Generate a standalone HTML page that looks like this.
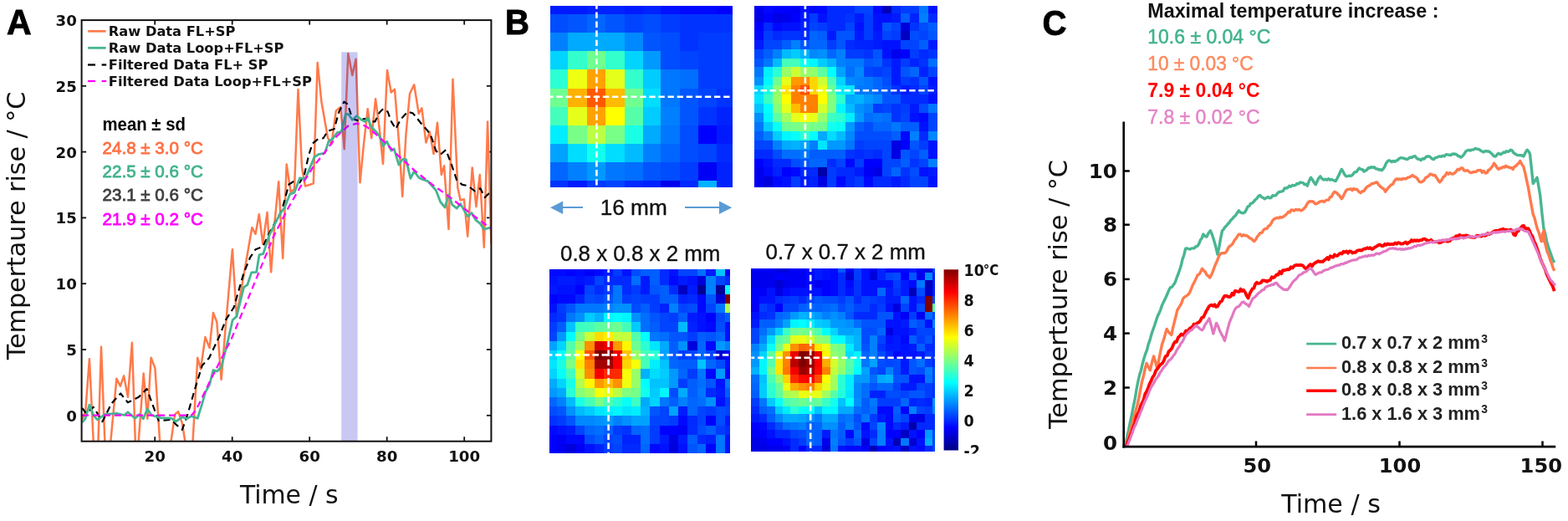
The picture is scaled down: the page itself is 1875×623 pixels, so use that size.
<!DOCTYPE html>
<html lang="en"><head><meta charset="utf-8"><title>Figure</title>
<style>html,body{margin:0;padding:0;background:#fff;overflow:hidden}svg{display:block}</style>
</head><body>
<svg width="1875" height="623" viewBox="0 0 1875 623">
<defs>
<clipPath id="clipA"><rect x="97.6" y="24" width="490" height="503.7"/></clipPath>
<clipPath id="clipC"><rect x="1343" y="140" width="520" height="395"/></clipPath>
<clipPath id="clipCB"><rect x="1120" y="300" width="100" height="242.5"/></clipPath>
</defs>
<rect width="1875" height="623" fill="#fff"/>
<line x1="185.2" y1="527.7" x2="185.2" y2="522.2" stroke="#111" stroke-width="1.8"/>
<line x1="185.2" y1="24.1" x2="185.2" y2="29.6" stroke="#111" stroke-width="1.8"/>
<line x1="277.7" y1="527.7" x2="277.7" y2="522.2" stroke="#111" stroke-width="1.8"/>
<line x1="277.7" y1="24.1" x2="277.7" y2="29.6" stroke="#111" stroke-width="1.8"/>
<line x1="370.2" y1="527.7" x2="370.2" y2="522.2" stroke="#111" stroke-width="1.8"/>
<line x1="370.2" y1="24.1" x2="370.2" y2="29.6" stroke="#111" stroke-width="1.8"/>
<line x1="462.7" y1="527.7" x2="462.7" y2="522.2" stroke="#111" stroke-width="1.8"/>
<line x1="462.7" y1="24.1" x2="462.7" y2="29.6" stroke="#111" stroke-width="1.8"/>
<line x1="555.2" y1="527.7" x2="555.2" y2="522.2" stroke="#111" stroke-width="1.8"/>
<line x1="555.2" y1="24.1" x2="555.2" y2="29.6" stroke="#111" stroke-width="1.8"/>
<line x1="97.6" y1="496.8" x2="103.1" y2="496.8" stroke="#111" stroke-width="1.8"/>
<line x1="587.4" y1="496.8" x2="581.9" y2="496.8" stroke="#111" stroke-width="1.8"/>
<line x1="97.6" y1="418.0" x2="103.1" y2="418.0" stroke="#111" stroke-width="1.8"/>
<line x1="587.4" y1="418.0" x2="581.9" y2="418.0" stroke="#111" stroke-width="1.8"/>
<line x1="97.6" y1="339.2" x2="103.1" y2="339.2" stroke="#111" stroke-width="1.8"/>
<line x1="587.4" y1="339.2" x2="581.9" y2="339.2" stroke="#111" stroke-width="1.8"/>
<line x1="97.6" y1="260.4" x2="103.1" y2="260.4" stroke="#111" stroke-width="1.8"/>
<line x1="587.4" y1="260.4" x2="581.9" y2="260.4" stroke="#111" stroke-width="1.8"/>
<line x1="97.6" y1="181.6" x2="103.1" y2="181.6" stroke="#111" stroke-width="1.8"/>
<line x1="587.4" y1="181.6" x2="581.9" y2="181.6" stroke="#111" stroke-width="1.8"/>
<line x1="97.6" y1="102.8" x2="103.1" y2="102.8" stroke="#111" stroke-width="1.8"/>
<line x1="587.4" y1="102.8" x2="581.9" y2="102.8" stroke="#111" stroke-width="1.8"/>
<g clip-path="url(#clipA)">
<polyline points="98.2,501.9 102.2,492.0 106.9,429.3 112.3,540.0 117.1,540.0 121.0,414.7 125.8,540.0 131.2,540.0 139.4,452.7 143.8,461.8 148.1,449.4 152.9,474.8 157.9,409.8 162.2,540.0 164.8,540.0 171.7,446.6 176.3,500.8 180.6,427.8 185.4,440.1 191.9,540.0 202.7,540.0 209.2,495.4 213.1,492.1 217.9,506.2 223.3,540.0 229.8,540.0 236.3,427.8 240.0,441.2 245.4,403.1 250.6,416.0 255.0,374.0 259.3,385.0 264.6,454.0 269.0,400.0 277.9,298.2 282.9,378.4 287.5,352.0 292.0,326.0 296.7,299.0 301.3,272.2 305.6,279.8 309.8,256.2 314.3,291.7 319.5,254.1 324.1,325.3 328.5,265.0 333.2,217.2 338.2,309.0 342.7,196.6 347.7,230.2 352.0,225.9 356.5,107.0 361.0,200.0 365.0,222.6 370.0,221.0 374.8,219.4 379.7,74.9 384.4,121.5 388.5,145.0 392.0,164.9 396.5,172.0 401.8,132.4 407.2,128.0 411.7,178.2 416.3,64.1 421.3,90.1 425.6,70.6 430.5,218.3 435.0,172.0 439.7,130.2 444.2,165.2 449.1,118.3 453.5,152.0 458.0,196.0 463.0,84.0 467.7,110.5 472.0,106.7 477.8,180.0 481.2,235.0 485.5,160.0 490.0,112.0 495.2,101.3 500.7,135.9 504.4,129.4 509.4,170.6 513.7,157.6 518.5,184.0 523.0,146.7 527.8,209.0 531.1,198.2 536.5,274.1 541.5,94.7 547.3,224.2 550.6,239.4 554.9,238.3 559.2,282.7 564.7,200.4 569.4,247.0 573.8,209.0 578.8,295.7 583.1,145.6 587.4,291.4" fill="none" stroke="#ff7a4a" stroke-width="2.5" stroke-linejoin="round"/>
<polyline points="98.2,487.8 103.0,494.3 109.5,488.9 111.7,486.7 122.5,504.1 133.4,482.4 144.2,470.5 152.9,481.3 165.9,474.8 175.6,465.0 181.1,480.2 189.7,503.0 204.9,501.9 211.4,508.4 217.9,513.8 224.4,495.4 233.1,465.0 241.8,436.9 250.0,428.2 262.3,402.2 269.9,382.7 279.6,367.6 291.5,326.4 299.1,307.9 305.6,298.2 314.3,294.9 321.9,278.7 336.9,251.9 345.5,220.5 350.9,217.2 358.5,218.3 364.0,208.5 369.4,184.7 373.7,171.7 380.2,166.3 386.7,165.2 392.1,156.5 399.7,154.3 405.0,134.6 411.5,121.5 415.9,124.8 421.3,142.1 428.9,144.3 435.4,142.1 439.7,143.2 444.1,145.4 448.4,145.4 453.8,134.6 458.2,130.2 463.6,133.5 467.9,145.4 473.3,154.1 478.8,143.2 487.4,133.5 493.9,135.6 502.9,146.7 511.5,156.5 515.9,164.1 521.3,180.3 526.7,184.7 533.2,179.2 539.7,196.0 546.2,215.5 552.7,220.9 559.2,222.0 567.9,228.5 574.4,225.3 579.8,236.1 587.4,228.5" fill="none" stroke="#000" stroke-width="2.15" stroke-linejoin="round" stroke-dasharray="8 5"/>
<polyline points="98.2,505.2 101.9,500.8 106.9,484.1 111.7,496.5 116.5,501.9 125.8,495.4 139.9,494.3 148.5,496.5 152.9,492.8 161.5,500.2 167.0,495.4 171.3,500.8 176.3,488.9 181.1,496.5 191.9,499.7 204.9,500.2 210.3,504.1 217.9,498.6 223.3,500.8 228.8,497.6 236.3,500.2 241.8,482.4 245.5,469.2 250.5,460.0 255.0,442.5 259.6,444.0 264.7,439.0 273.1,405.0 278.1,382.7 282.9,378.4 291.5,343.7 295.9,340.5 300.7,325.9 306.7,325.3 310.0,304.7 314.7,303.6 321.7,282.2 328.5,268.0 335.8,254.1 340.1,248.6 346.6,232.4 352.0,230.2 358.5,212.9 365.0,214.0 375.9,187.9 380.7,184.7 388.5,183.0 393.2,168.4 397.6,166.3 403.0,158.7 408.3,157.3 413.3,136.7 416.3,136.3 421.3,143.2 426.7,138.5 432.1,143.2 436.5,145.4 439.7,141.1 444.1,151.9 448.4,156.2 453.8,162.7 458.2,174.7 462.5,169.2 467.9,180.1 471.2,177.9 476.9,197.1 481.2,190.6 485.5,190.6 490.9,213.4 495.3,204.7 500.7,212.3 505.0,214.4 511.5,216.6 521.3,227.5 526.7,241.5 532.1,248.0 536.5,232.9 540.8,244.8 546.2,249.1 550.6,243.7 559.2,258.9 564.0,254.6 569.0,263.2 574.4,267.6 578.8,274.1 587.4,271.9" fill="none" stroke="#45b591" stroke-width="2.8" stroke-linejoin="round"/>
<polyline points="98.0,496.5 229.0,496.5 234.0,491.0 240.0,479.0 250.0,458.0 276.8,405.0 300.0,349.0 327.0,283.0 345.0,248.0 360.0,222.0 375.0,199.0 390.0,180.0 402.9,162.7 415.9,150.8 426.7,147.6 437.6,150.8 448.4,159.5 461.7,171.6 476.1,186.1 496.9,204.9 513.6,218.2 538.7,236.4 560.0,253.2 587.4,273.6" fill="none" stroke="#ff00ff" stroke-width="2.25" stroke-linejoin="round" stroke-dasharray="8 5"/>
</g>
<rect x="408.2" y="62.3" width="19.4" height="465.4" fill="#0000c8" fill-opacity="0.215"/>
<rect x="97.6" y="24.1" width="489.8" height="503.6" fill="none" stroke="#111" stroke-width="2"/>
<text x="185.2" y="551.6" font-family='"DejaVu Sans", "Liberation Sans", sans-serif' font-size="18.2" fill="#111" font-weight="bold" text-anchor="middle">20</text>
<text x="277.7" y="551.6" font-family='"DejaVu Sans", "Liberation Sans", sans-serif' font-size="18.2" fill="#111" font-weight="bold" text-anchor="middle">40</text>
<text x="370.2" y="551.6" font-family='"DejaVu Sans", "Liberation Sans", sans-serif' font-size="18.2" fill="#111" font-weight="bold" text-anchor="middle">60</text>
<text x="462.7" y="551.6" font-family='"DejaVu Sans", "Liberation Sans", sans-serif' font-size="18.2" fill="#111" font-weight="bold" text-anchor="middle">80</text>
<text x="555.2" y="551.6" font-family='"DejaVu Sans", "Liberation Sans", sans-serif' font-size="18.2" fill="#111" font-weight="bold" text-anchor="middle">100</text>
<text x="91.8" y="503.7" font-family='"DejaVu Sans", "Liberation Sans", sans-serif' font-size="18.2" fill="#111" font-weight="bold" text-anchor="end">0</text>
<text x="91.8" y="424.9" font-family='"DejaVu Sans", "Liberation Sans", sans-serif' font-size="18.2" fill="#111" font-weight="bold" text-anchor="end">5</text>
<text x="91.8" y="346.1" font-family='"DejaVu Sans", "Liberation Sans", sans-serif' font-size="18.2" fill="#111" font-weight="bold" text-anchor="end">10</text>
<text x="91.8" y="267.3" font-family='"DejaVu Sans", "Liberation Sans", sans-serif' font-size="18.2" fill="#111" font-weight="bold" text-anchor="end">15</text>
<text x="91.8" y="188.5" font-family='"DejaVu Sans", "Liberation Sans", sans-serif' font-size="18.2" fill="#111" font-weight="bold" text-anchor="end">20</text>
<text x="91.8" y="109.7" font-family='"DejaVu Sans", "Liberation Sans", sans-serif' font-size="18.2" fill="#111" font-weight="bold" text-anchor="end">25</text>
<text x="91.8" y="30.9" font-family='"DejaVu Sans", "Liberation Sans", sans-serif' font-size="18.2" fill="#111" font-weight="bold" text-anchor="end">30</text>
<line x1="105.2" y1="37.3" x2="126.6" y2="37.3" stroke="#ff7a4a" stroke-width="2.7"/>
<line x1="105.2" y1="57.3" x2="126.6" y2="57.3" stroke="#45b591" stroke-width="2.8"/>
<line x1="105.0" y1="77.5" x2="114.0" y2="77.5" stroke="#000" stroke-width="2.3"/>
<line x1="121.6" y1="77.5" x2="127.2" y2="77.5" stroke="#000" stroke-width="2.3"/>
<line x1="105.0" y1="97.0" x2="114.0" y2="97.0" stroke="#ff00ff" stroke-width="2.3"/>
<line x1="121.6" y1="97.0" x2="127.2" y2="97.0" stroke="#ff00ff" stroke-width="2.3"/>
<text x="129.8" y="43.3" font-family='"DejaVu Sans", "Liberation Sans", sans-serif' font-size="16.2" fill="#111" font-weight="bold" textLength="151.6" lengthAdjust="spacingAndGlyphs">Raw Data FL+SP</text>
<text x="129.8" y="63.3" font-family='"DejaVu Sans", "Liberation Sans", sans-serif' font-size="16.2" fill="#111" font-weight="bold" textLength="209.7" lengthAdjust="spacingAndGlyphs">Raw Data Loop+FL+SP</text>
<text x="129.8" y="82.7" font-family='"DejaVu Sans", "Liberation Sans", sans-serif' font-size="16.2" fill="#111" font-weight="bold" textLength="190.7" lengthAdjust="spacingAndGlyphs">Filtered Data FL+ SP</text>
<text x="129.8" y="103.0" font-family='"DejaVu Sans", "Liberation Sans", sans-serif' font-size="16.2" fill="#111" font-weight="bold" textLength="243.2" lengthAdjust="spacingAndGlyphs">Filtered Data Loop+FL+SP</text>
<text x="122.5" y="156.4" font-family='"Liberation Sans", sans-serif' font-size="21.5" fill="#000" font-weight="bold" textLength="99.4" lengthAdjust="spacingAndGlyphs">mean ± sd</text>
<text x="122.5" y="183.8" font-family='"Liberation Sans", sans-serif' font-size="20.6" fill="#ff7043" textLength="120.3" lengthAdjust="spacingAndGlyphs" stroke="#ff7043" stroke-width="0.8">24.8 ± 3.0 °C</text>
<text x="122.5" y="212.1" font-family='"Liberation Sans", sans-serif' font-size="20.6" fill="#41b38c" textLength="120.3" lengthAdjust="spacingAndGlyphs" stroke="#41b38c" stroke-width="0.8">22.5 ± 0.6 °C</text>
<text x="122.5" y="240.4" font-family='"Liberation Sans", sans-serif' font-size="20.6" fill="#404040" textLength="120.3" lengthAdjust="spacingAndGlyphs" stroke="#404040" stroke-width="0.8">23.1 ± 0.6 °C</text>
<text x="122.5" y="269.2" font-family='"Liberation Sans", sans-serif' font-size="20.6" fill="#ff00ff" textLength="120.3" lengthAdjust="spacingAndGlyphs" stroke="#ff00ff" stroke-width="0.8">21.9 ± 0.2 °C</text>
<text x="286.9" y="602.3" font-family='"DejaVu Sans", "Liberation Sans", sans-serif' font-size="30.5" fill="#111" textLength="117.7" lengthAdjust="spacingAndGlyphs">Time / s</text>
<text x="30.2" y="430.2" font-family='"DejaVu Sans", "Liberation Sans", sans-serif' font-size="30.5" fill="#111" textLength="320.5" lengthAdjust="spacingAndGlyphs" transform="rotate(-90 30.2 430.2)">Tempertaure rise / °C</text>
<text x="8.0" y="41.2" font-family='"Liberation Sans", sans-serif' font-size="42.3" fill="#000" font-weight="bold" textLength="29.6" lengthAdjust="spacingAndGlyphs" stroke="#000" stroke-width="0.9">A</text>
<text x="604.0" y="41.1" font-family='"Liberation Sans", sans-serif' font-size="42.3" fill="#000" font-weight="bold" textLength="29.0" lengthAdjust="spacingAndGlyphs" stroke="#000" stroke-width="0.9">B</text>
<g shape-rendering="crispEdges">
<rect x="657.60" y="6.80" width="22.20" height="11.00" fill="#001aff"/>
<rect x="679.30" y="6.80" width="23.30" height="11.00" fill="#001aff"/>
<rect x="702.10" y="6.80" width="22.20" height="11.00" fill="#0022ff"/>
<rect x="723.80" y="6.80" width="23.40" height="11.00" fill="#0022ff"/>
<rect x="746.70" y="6.80" width="22.40" height="11.00" fill="#001aff"/>
<rect x="768.60" y="6.80" width="22.10" height="11.00" fill="#0022ff"/>
<rect x="790.20" y="6.80" width="23.10" height="11.00" fill="#0011ff"/>
<rect x="812.80" y="6.80" width="22.40" height="11.00" fill="#0008ff"/>
<rect x="834.70" y="6.80" width="23.00" height="11.00" fill="#0008ff"/>
<rect x="857.20" y="6.80" width="18.80" height="11.00" fill="#0000ff"/>
<rect x="657.60" y="17.30" width="22.20" height="22.20" fill="#004cff"/>
<rect x="679.30" y="17.30" width="23.30" height="22.20" fill="#0055ff"/>
<rect x="702.10" y="17.30" width="22.20" height="22.20" fill="#0066ff"/>
<rect x="723.80" y="17.30" width="23.40" height="22.20" fill="#0055ff"/>
<rect x="746.70" y="17.30" width="22.40" height="22.20" fill="#0044ff"/>
<rect x="768.60" y="17.30" width="22.10" height="22.20" fill="#004cff"/>
<rect x="790.20" y="17.30" width="23.10" height="22.20" fill="#003cff"/>
<rect x="812.80" y="17.30" width="22.40" height="22.20" fill="#0033ff"/>
<rect x="834.70" y="17.30" width="23.00" height="22.20" fill="#0033ff"/>
<rect x="857.20" y="17.30" width="18.80" height="22.20" fill="#0033ff"/>
<rect x="657.60" y="39.00" width="22.20" height="22.80" fill="#0080ff"/>
<rect x="679.30" y="39.00" width="23.30" height="22.80" fill="#00aaff"/>
<rect x="702.10" y="39.00" width="22.20" height="22.80" fill="#00aaff"/>
<rect x="723.80" y="39.00" width="23.40" height="22.80" fill="#00aaff"/>
<rect x="746.70" y="39.00" width="22.40" height="22.80" fill="#0088ff"/>
<rect x="768.60" y="39.00" width="22.10" height="22.80" fill="#0055ff"/>
<rect x="790.20" y="39.00" width="23.10" height="22.80" fill="#004cff"/>
<rect x="812.80" y="39.00" width="22.40" height="22.80" fill="#0033ff"/>
<rect x="834.70" y="39.00" width="23.00" height="22.80" fill="#003cff"/>
<rect x="857.20" y="39.00" width="18.80" height="22.80" fill="#003cff"/>
<rect x="657.60" y="61.30" width="22.20" height="22.60" fill="#00d4ff"/>
<rect x="679.30" y="61.30" width="23.30" height="22.60" fill="#33ffcc"/>
<rect x="702.10" y="61.30" width="22.20" height="22.60" fill="#6eff90"/>
<rect x="723.80" y="61.30" width="23.40" height="22.60" fill="#33ffcc"/>
<rect x="746.70" y="61.30" width="22.40" height="22.60" fill="#00d4ff"/>
<rect x="768.60" y="61.30" width="22.10" height="22.60" fill="#0099ff"/>
<rect x="790.20" y="61.30" width="23.10" height="22.60" fill="#004cff"/>
<rect x="812.80" y="61.30" width="22.40" height="22.60" fill="#0044ff"/>
<rect x="834.70" y="61.30" width="23.00" height="22.60" fill="#003cff"/>
<rect x="857.20" y="61.30" width="18.80" height="22.60" fill="#003cff"/>
<rect x="657.60" y="83.40" width="22.20" height="23.00" fill="#2bffd4"/>
<rect x="679.30" y="83.40" width="23.30" height="23.00" fill="#eeff11"/>
<rect x="702.10" y="83.40" width="22.20" height="23.00" fill="#ffa200"/>
<rect x="723.80" y="83.40" width="23.40" height="23.00" fill="#e5ff1a"/>
<rect x="746.70" y="83.40" width="22.40" height="23.00" fill="#33ffcc"/>
<rect x="768.60" y="83.40" width="22.10" height="23.00" fill="#00ccff"/>
<rect x="790.20" y="83.40" width="23.10" height="23.00" fill="#0077ff"/>
<rect x="812.80" y="83.40" width="22.40" height="23.00" fill="#006eff"/>
<rect x="834.70" y="83.40" width="23.00" height="23.00" fill="#003cff"/>
<rect x="857.20" y="83.40" width="18.80" height="23.00" fill="#003cff"/>
<rect x="657.60" y="105.90" width="22.20" height="22.10" fill="#6eff90"/>
<rect x="679.30" y="105.90" width="23.30" height="22.10" fill="#ffb200"/>
<rect x="702.10" y="105.90" width="22.20" height="22.10" fill="#ff5900"/>
<rect x="723.80" y="105.90" width="23.40" height="22.10" fill="#ffbb00"/>
<rect x="746.70" y="105.90" width="22.40" height="22.10" fill="#6eff90"/>
<rect x="768.60" y="105.90" width="22.10" height="22.10" fill="#00ddff"/>
<rect x="790.20" y="105.90" width="23.10" height="22.10" fill="#0077ff"/>
<rect x="812.80" y="105.90" width="22.40" height="22.10" fill="#0055ff"/>
<rect x="834.70" y="105.90" width="23.00" height="22.10" fill="#0044ff"/>
<rect x="857.20" y="105.90" width="18.80" height="22.10" fill="#0033ff"/>
<rect x="657.60" y="127.50" width="22.20" height="23.10" fill="#44ffbb"/>
<rect x="679.30" y="127.50" width="23.30" height="23.10" fill="#e5ff1a"/>
<rect x="702.10" y="127.50" width="22.20" height="23.10" fill="#ffa200"/>
<rect x="723.80" y="127.50" width="23.40" height="23.10" fill="#ffff00"/>
<rect x="746.70" y="127.50" width="22.40" height="23.10" fill="#55ffaa"/>
<rect x="768.60" y="127.50" width="22.10" height="23.10" fill="#00ccff"/>
<rect x="790.20" y="127.50" width="23.10" height="23.10" fill="#0080ff"/>
<rect x="812.80" y="127.50" width="22.40" height="23.10" fill="#0055ff"/>
<rect x="834.70" y="127.50" width="23.00" height="23.10" fill="#0033ff"/>
<rect x="857.20" y="127.50" width="18.80" height="23.10" fill="#0022ff"/>
<rect x="657.60" y="150.10" width="22.20" height="22.80" fill="#00eeff"/>
<rect x="679.30" y="150.10" width="23.30" height="22.80" fill="#77ff88"/>
<rect x="702.10" y="150.10" width="22.20" height="22.80" fill="#bbff44"/>
<rect x="723.80" y="150.10" width="23.40" height="22.80" fill="#77ff88"/>
<rect x="746.70" y="150.10" width="22.40" height="22.80" fill="#19ffe6"/>
<rect x="768.60" y="150.10" width="22.10" height="22.80" fill="#00aaff"/>
<rect x="790.20" y="150.10" width="23.10" height="22.80" fill="#0077ff"/>
<rect x="812.80" y="150.10" width="22.40" height="22.80" fill="#004cff"/>
<rect x="834.70" y="150.10" width="23.00" height="22.80" fill="#0000ff"/>
<rect x="857.20" y="150.10" width="18.80" height="22.80" fill="#001aff"/>
<rect x="657.60" y="172.40" width="22.20" height="22.40" fill="#00a2ff"/>
<rect x="679.30" y="172.40" width="23.30" height="22.40" fill="#00ddff"/>
<rect x="702.10" y="172.40" width="22.20" height="22.40" fill="#11ffee"/>
<rect x="723.80" y="172.40" width="23.40" height="22.40" fill="#00ddff"/>
<rect x="746.70" y="172.40" width="22.40" height="22.40" fill="#00bbff"/>
<rect x="768.60" y="172.40" width="22.10" height="22.40" fill="#0080ff"/>
<rect x="790.20" y="172.40" width="23.10" height="22.40" fill="#0066ff"/>
<rect x="812.80" y="172.40" width="22.40" height="22.40" fill="#004cff"/>
<rect x="834.70" y="172.40" width="23.00" height="22.40" fill="#0044ff"/>
<rect x="857.20" y="172.40" width="18.80" height="22.40" fill="#002aff"/>
<rect x="657.60" y="194.30" width="22.20" height="22.30" fill="#0066ff"/>
<rect x="679.30" y="194.30" width="23.30" height="22.30" fill="#0080ff"/>
<rect x="702.10" y="194.30" width="22.20" height="22.30" fill="#0099ff"/>
<rect x="723.80" y="194.30" width="23.40" height="22.30" fill="#0077ff"/>
<rect x="746.70" y="194.30" width="22.40" height="22.30" fill="#006eff"/>
<rect x="768.60" y="194.30" width="22.10" height="22.30" fill="#0055ff"/>
<rect x="790.20" y="194.30" width="23.10" height="22.30" fill="#004cff"/>
<rect x="812.80" y="194.30" width="22.40" height="22.30" fill="#003cff"/>
<rect x="834.70" y="194.30" width="23.00" height="22.30" fill="#0000f6"/>
<rect x="857.20" y="194.30" width="18.80" height="22.30" fill="#0022ff"/>
<rect x="657.60" y="216.10" width="22.20" height="8.30" fill="#0033ff"/>
<rect x="679.30" y="216.10" width="23.30" height="8.30" fill="#001aff"/>
<rect x="702.10" y="216.10" width="22.20" height="8.30" fill="#003cff"/>
<rect x="723.80" y="216.10" width="23.40" height="8.30" fill="#0044ff"/>
<rect x="746.70" y="216.10" width="22.40" height="8.30" fill="#002aff"/>
<rect x="768.60" y="216.10" width="22.10" height="8.30" fill="#0022ff"/>
<rect x="790.20" y="216.10" width="23.10" height="8.30" fill="#0000ee"/>
<rect x="812.80" y="216.10" width="22.40" height="8.30" fill="#002aff"/>
<rect x="834.70" y="216.10" width="23.00" height="8.30" fill="#00b2ff"/>
<rect x="857.20" y="216.10" width="18.80" height="8.30" fill="#0022ff"/>
</g>
<line x1="713.4" y1="6.8" x2="713.4" y2="224.4" stroke="#fff" stroke-width="2.6" stroke-dasharray="7.4 3.7" stroke-dashoffset="3.5"/>
<line x1="657.7" y1="115.7" x2="876.1" y2="115.7" stroke="#fff" stroke-width="2.6" stroke-dasharray="7.4 3.7" stroke-dashoffset="3.5"/>
<g shape-rendering="crispEdges">
<rect x="902.00" y="7.00" width="11.42" height="9.20" fill="#0000ee"/>
<rect x="912.92" y="7.00" width="11.43" height="9.20" fill="#0008ff"/>
<rect x="923.85" y="7.00" width="11.42" height="9.20" fill="#0000ff"/>
<rect x="934.77" y="7.00" width="11.43" height="9.20" fill="#0000ff"/>
<rect x="945.70" y="7.00" width="11.42" height="9.20" fill="#0000f6"/>
<rect x="956.62" y="7.00" width="11.42" height="9.20" fill="#0011ff"/>
<rect x="967.55" y="7.00" width="11.43" height="9.20" fill="#0008ff"/>
<rect x="978.48" y="7.00" width="11.42" height="9.20" fill="#0008ff"/>
<rect x="989.40" y="7.00" width="11.43" height="9.20" fill="#002aff"/>
<rect x="1000.33" y="7.00" width="11.42" height="9.20" fill="#002aff"/>
<rect x="1011.25" y="7.00" width="11.42" height="9.20" fill="#002aff"/>
<rect x="1022.17" y="7.00" width="11.42" height="9.20" fill="#0044ff"/>
<rect x="1033.10" y="7.00" width="11.43" height="9.20" fill="#0044ff"/>
<rect x="1044.03" y="7.00" width="11.42" height="9.20" fill="#0008ff"/>
<rect x="1054.95" y="7.00" width="11.42" height="9.20" fill="#0000bb"/>
<rect x="1065.88" y="7.00" width="11.42" height="9.20" fill="#002aff"/>
<rect x="1076.80" y="7.00" width="11.42" height="9.20" fill="#003cff"/>
<rect x="1087.72" y="7.00" width="11.43" height="9.20" fill="#003cff"/>
<rect x="1098.65" y="7.00" width="11.42" height="9.20" fill="#0077ff"/>
<rect x="1109.58" y="7.00" width="11.02" height="9.20" fill="#0011ff"/>
<rect x="902.00" y="15.70" width="11.42" height="11.30" fill="#0000e5"/>
<rect x="912.92" y="15.70" width="11.43" height="11.30" fill="#0000ff"/>
<rect x="923.85" y="15.70" width="11.42" height="11.30" fill="#0000e5"/>
<rect x="934.77" y="15.70" width="11.43" height="11.30" fill="#0000ee"/>
<rect x="945.70" y="15.70" width="11.42" height="11.30" fill="#0000ff"/>
<rect x="956.62" y="15.70" width="11.42" height="11.30" fill="#001aff"/>
<rect x="967.55" y="15.70" width="11.43" height="11.30" fill="#003cff"/>
<rect x="978.48" y="15.70" width="11.42" height="11.30" fill="#0011ff"/>
<rect x="989.40" y="15.70" width="11.43" height="11.30" fill="#002aff"/>
<rect x="1000.33" y="15.70" width="11.42" height="11.30" fill="#002aff"/>
<rect x="1011.25" y="15.70" width="11.42" height="11.30" fill="#0033ff"/>
<rect x="1022.17" y="15.70" width="11.42" height="11.30" fill="#001aff"/>
<rect x="1033.10" y="15.70" width="11.43" height="11.30" fill="#003cff"/>
<rect x="1044.03" y="15.70" width="11.42" height="11.30" fill="#0011ff"/>
<rect x="1054.95" y="15.70" width="11.42" height="11.30" fill="#0011ff"/>
<rect x="1065.88" y="15.70" width="11.42" height="11.30" fill="#001aff"/>
<rect x="1076.80" y="15.70" width="11.42" height="11.30" fill="#005eff"/>
<rect x="1087.72" y="15.70" width="11.43" height="11.30" fill="#0022ff"/>
<rect x="1098.65" y="15.70" width="11.42" height="11.30" fill="#0080ff"/>
<rect x="1109.58" y="15.70" width="11.02" height="11.30" fill="#002aff"/>
<rect x="902.00" y="26.50" width="11.42" height="11.20" fill="#0000ff"/>
<rect x="912.92" y="26.50" width="11.43" height="11.20" fill="#002aff"/>
<rect x="923.85" y="26.50" width="11.42" height="11.20" fill="#0008ff"/>
<rect x="934.77" y="26.50" width="11.43" height="11.20" fill="#0011ff"/>
<rect x="945.70" y="26.50" width="11.42" height="11.20" fill="#0011ff"/>
<rect x="956.62" y="26.50" width="11.42" height="11.20" fill="#0022ff"/>
<rect x="967.55" y="26.50" width="11.43" height="11.20" fill="#0044ff"/>
<rect x="978.48" y="26.50" width="11.42" height="11.20" fill="#003cff"/>
<rect x="989.40" y="26.50" width="11.43" height="11.20" fill="#002aff"/>
<rect x="1000.33" y="26.50" width="11.42" height="11.20" fill="#002aff"/>
<rect x="1011.25" y="26.50" width="11.42" height="11.20" fill="#0044ff"/>
<rect x="1022.17" y="26.50" width="11.42" height="11.20" fill="#0011ff"/>
<rect x="1033.10" y="26.50" width="11.43" height="11.20" fill="#003cff"/>
<rect x="1044.03" y="26.50" width="11.42" height="11.20" fill="#0011ff"/>
<rect x="1054.95" y="26.50" width="11.42" height="11.20" fill="#0055ff"/>
<rect x="1065.88" y="26.50" width="11.42" height="11.20" fill="#0044ff"/>
<rect x="1076.80" y="26.50" width="11.42" height="11.20" fill="#0000dd"/>
<rect x="1087.72" y="26.50" width="11.43" height="11.20" fill="#0033ff"/>
<rect x="1098.65" y="26.50" width="11.42" height="11.20" fill="#004cff"/>
<rect x="1109.58" y="26.50" width="11.02" height="11.20" fill="#005eff"/>
<rect x="902.00" y="37.20" width="11.42" height="11.30" fill="#0008ff"/>
<rect x="912.92" y="37.20" width="11.43" height="11.30" fill="#003cff"/>
<rect x="923.85" y="37.20" width="11.42" height="11.30" fill="#002aff"/>
<rect x="934.77" y="37.20" width="11.43" height="11.30" fill="#0033ff"/>
<rect x="945.70" y="37.20" width="11.42" height="11.30" fill="#0033ff"/>
<rect x="956.62" y="37.20" width="11.42" height="11.30" fill="#002aff"/>
<rect x="967.55" y="37.20" width="11.43" height="11.30" fill="#0066ff"/>
<rect x="978.48" y="37.20" width="11.42" height="11.30" fill="#005eff"/>
<rect x="989.40" y="37.20" width="11.43" height="11.30" fill="#001aff"/>
<rect x="1000.33" y="37.20" width="11.42" height="11.30" fill="#0055ff"/>
<rect x="1011.25" y="37.20" width="11.42" height="11.30" fill="#0055ff"/>
<rect x="1022.17" y="37.20" width="11.42" height="11.30" fill="#001aff"/>
<rect x="1033.10" y="37.20" width="11.43" height="11.30" fill="#003cff"/>
<rect x="1044.03" y="37.20" width="11.42" height="11.30" fill="#001aff"/>
<rect x="1054.95" y="37.20" width="11.42" height="11.30" fill="#0044ff"/>
<rect x="1065.88" y="37.20" width="11.42" height="11.30" fill="#003cff"/>
<rect x="1076.80" y="37.20" width="11.42" height="11.30" fill="#0000c3"/>
<rect x="1087.72" y="37.20" width="11.43" height="11.30" fill="#004cff"/>
<rect x="1098.65" y="37.20" width="11.42" height="11.30" fill="#0044ff"/>
<rect x="1109.58" y="37.20" width="11.02" height="11.30" fill="#0055ff"/>
<rect x="902.00" y="48.00" width="11.42" height="11.30" fill="#001aff"/>
<rect x="912.92" y="48.00" width="11.43" height="11.30" fill="#0044ff"/>
<rect x="923.85" y="48.00" width="11.42" height="11.30" fill="#0044ff"/>
<rect x="934.77" y="48.00" width="11.43" height="11.30" fill="#005eff"/>
<rect x="945.70" y="48.00" width="11.42" height="11.30" fill="#0080ff"/>
<rect x="956.62" y="48.00" width="11.42" height="11.30" fill="#0055ff"/>
<rect x="967.55" y="48.00" width="11.43" height="11.30" fill="#0066ff"/>
<rect x="978.48" y="48.00" width="11.42" height="11.30" fill="#0066ff"/>
<rect x="989.40" y="48.00" width="11.43" height="11.30" fill="#003cff"/>
<rect x="1000.33" y="48.00" width="11.42" height="11.30" fill="#0055ff"/>
<rect x="1011.25" y="48.00" width="11.42" height="11.30" fill="#002aff"/>
<rect x="1022.17" y="48.00" width="11.42" height="11.30" fill="#0022ff"/>
<rect x="1033.10" y="48.00" width="11.43" height="11.30" fill="#0022ff"/>
<rect x="1044.03" y="48.00" width="11.42" height="11.30" fill="#001aff"/>
<rect x="1054.95" y="48.00" width="11.42" height="11.30" fill="#0011ff"/>
<rect x="1065.88" y="48.00" width="11.42" height="11.30" fill="#0011ff"/>
<rect x="1076.80" y="48.00" width="11.42" height="11.30" fill="#0044ff"/>
<rect x="1087.72" y="48.00" width="11.43" height="11.30" fill="#0044ff"/>
<rect x="1098.65" y="48.00" width="11.42" height="11.30" fill="#005eff"/>
<rect x="1109.58" y="48.00" width="11.02" height="11.30" fill="#001aff"/>
<rect x="902.00" y="58.80" width="11.42" height="11.30" fill="#0044ff"/>
<rect x="912.92" y="58.80" width="11.43" height="11.30" fill="#005eff"/>
<rect x="923.85" y="58.80" width="11.42" height="11.30" fill="#0080ff"/>
<rect x="934.77" y="58.80" width="11.43" height="11.30" fill="#00bbff"/>
<rect x="945.70" y="58.80" width="11.42" height="11.30" fill="#00ccff"/>
<rect x="956.62" y="58.80" width="11.42" height="11.30" fill="#00b2ff"/>
<rect x="967.55" y="58.80" width="11.43" height="11.30" fill="#0088ff"/>
<rect x="978.48" y="58.80" width="11.42" height="11.30" fill="#0090ff"/>
<rect x="989.40" y="58.80" width="11.43" height="11.30" fill="#0066ff"/>
<rect x="1000.33" y="58.80" width="11.42" height="11.30" fill="#0080ff"/>
<rect x="1011.25" y="58.80" width="11.42" height="11.30" fill="#003cff"/>
<rect x="1022.17" y="58.80" width="11.42" height="11.30" fill="#003cff"/>
<rect x="1033.10" y="58.80" width="11.43" height="11.30" fill="#0033ff"/>
<rect x="1044.03" y="58.80" width="11.42" height="11.30" fill="#0055ff"/>
<rect x="1054.95" y="58.80" width="11.42" height="11.30" fill="#0011ff"/>
<rect x="1065.88" y="58.80" width="11.42" height="11.30" fill="#0000ee"/>
<rect x="1076.80" y="58.80" width="11.42" height="11.30" fill="#0000ff"/>
<rect x="1087.72" y="58.80" width="11.43" height="11.30" fill="#003cff"/>
<rect x="1098.65" y="58.80" width="11.42" height="11.30" fill="#002aff"/>
<rect x="1109.58" y="58.80" width="11.02" height="11.30" fill="#0033ff"/>
<rect x="902.00" y="69.60" width="11.42" height="11.30" fill="#0055ff"/>
<rect x="912.92" y="69.60" width="11.43" height="11.30" fill="#0077ff"/>
<rect x="923.85" y="69.60" width="11.42" height="11.30" fill="#00bbff"/>
<rect x="934.77" y="69.60" width="11.43" height="11.30" fill="#44ffbb"/>
<rect x="945.70" y="69.60" width="11.42" height="11.30" fill="#44ffbb"/>
<rect x="956.62" y="69.60" width="11.42" height="11.30" fill="#08fff7"/>
<rect x="967.55" y="69.60" width="11.43" height="11.30" fill="#00f7ff"/>
<rect x="978.48" y="69.60" width="11.42" height="11.30" fill="#00ccff"/>
<rect x="989.40" y="69.60" width="11.43" height="11.30" fill="#00b2ff"/>
<rect x="1000.33" y="69.60" width="11.42" height="11.30" fill="#0080ff"/>
<rect x="1011.25" y="69.60" width="11.42" height="11.30" fill="#0077ff"/>
<rect x="1022.17" y="69.60" width="11.42" height="11.30" fill="#0077ff"/>
<rect x="1033.10" y="69.60" width="11.43" height="11.30" fill="#0055ff"/>
<rect x="1044.03" y="69.60" width="11.42" height="11.30" fill="#005eff"/>
<rect x="1054.95" y="69.60" width="11.42" height="11.30" fill="#0033ff"/>
<rect x="1065.88" y="69.60" width="11.42" height="11.30" fill="#001aff"/>
<rect x="1076.80" y="69.60" width="11.42" height="11.30" fill="#003cff"/>
<rect x="1087.72" y="69.60" width="11.43" height="11.30" fill="#0022ff"/>
<rect x="1098.65" y="69.60" width="11.42" height="11.30" fill="#0033ff"/>
<rect x="1109.58" y="69.60" width="11.02" height="11.30" fill="#006eff"/>
<rect x="902.00" y="80.40" width="11.42" height="11.60" fill="#0077ff"/>
<rect x="912.92" y="80.40" width="11.43" height="11.60" fill="#00eeff"/>
<rect x="923.85" y="80.40" width="11.42" height="11.60" fill="#2bffd4"/>
<rect x="934.77" y="80.40" width="11.43" height="11.60" fill="#99ff66"/>
<rect x="945.70" y="80.40" width="11.42" height="11.60" fill="#ccff33"/>
<rect x="956.62" y="80.40" width="11.42" height="11.60" fill="#99ff66"/>
<rect x="967.55" y="80.40" width="11.43" height="11.60" fill="#91ff6e"/>
<rect x="978.48" y="80.40" width="11.42" height="11.60" fill="#5dffa2"/>
<rect x="989.40" y="80.40" width="11.43" height="11.60" fill="#00ffff"/>
<rect x="1000.33" y="80.40" width="11.42" height="11.60" fill="#00a2ff"/>
<rect x="1011.25" y="80.40" width="11.42" height="11.60" fill="#006eff"/>
<rect x="1022.17" y="80.40" width="11.42" height="11.60" fill="#0088ff"/>
<rect x="1033.10" y="80.40" width="11.43" height="11.60" fill="#0044ff"/>
<rect x="1044.03" y="80.40" width="11.42" height="11.60" fill="#003cff"/>
<rect x="1054.95" y="80.40" width="11.42" height="11.60" fill="#0044ff"/>
<rect x="1065.88" y="80.40" width="11.42" height="11.60" fill="#001aff"/>
<rect x="1076.80" y="80.40" width="11.42" height="11.60" fill="#0055ff"/>
<rect x="1087.72" y="80.40" width="11.43" height="11.60" fill="#0066ff"/>
<rect x="1098.65" y="80.40" width="11.42" height="11.60" fill="#0022ff"/>
<rect x="1109.58" y="80.40" width="11.02" height="11.60" fill="#0044ff"/>
<rect x="902.00" y="91.50" width="11.42" height="11.30" fill="#0090ff"/>
<rect x="912.92" y="91.50" width="11.43" height="11.30" fill="#00f7ff"/>
<rect x="923.85" y="91.50" width="11.42" height="11.30" fill="#6eff90"/>
<rect x="934.77" y="91.50" width="11.43" height="11.30" fill="#e5ff1a"/>
<rect x="945.70" y="91.50" width="11.42" height="11.30" fill="#ff9900"/>
<rect x="956.62" y="91.50" width="11.42" height="11.30" fill="#ff9000"/>
<rect x="967.55" y="91.50" width="11.43" height="11.30" fill="#ffd500"/>
<rect x="978.48" y="91.50" width="11.42" height="11.30" fill="#ccff33"/>
<rect x="989.40" y="91.50" width="11.43" height="11.30" fill="#4dffb2"/>
<rect x="1000.33" y="91.50" width="11.42" height="11.30" fill="#00d4ff"/>
<rect x="1011.25" y="91.50" width="11.42" height="11.30" fill="#0088ff"/>
<rect x="1022.17" y="91.50" width="11.42" height="11.30" fill="#0080ff"/>
<rect x="1033.10" y="91.50" width="11.43" height="11.30" fill="#0077ff"/>
<rect x="1044.03" y="91.50" width="11.42" height="11.30" fill="#0066ff"/>
<rect x="1054.95" y="91.50" width="11.42" height="11.30" fill="#004cff"/>
<rect x="1065.88" y="91.50" width="11.42" height="11.30" fill="#001aff"/>
<rect x="1076.80" y="91.50" width="11.42" height="11.30" fill="#003cff"/>
<rect x="1087.72" y="91.50" width="11.43" height="11.30" fill="#0033ff"/>
<rect x="1098.65" y="91.50" width="11.42" height="11.30" fill="#0055ff"/>
<rect x="1109.58" y="91.50" width="11.02" height="11.30" fill="#0011ff"/>
<rect x="902.00" y="102.30" width="11.42" height="11.50" fill="#00d4ff"/>
<rect x="912.92" y="102.30" width="11.43" height="11.50" fill="#19ffe6"/>
<rect x="923.85" y="102.30" width="11.42" height="11.50" fill="#91ff6e"/>
<rect x="934.77" y="102.30" width="11.43" height="11.50" fill="#ffe500"/>
<rect x="945.70" y="102.30" width="11.42" height="11.50" fill="#ff8000"/>
<rect x="956.62" y="102.30" width="11.42" height="11.50" fill="#ff4d00"/>
<rect x="967.55" y="102.30" width="11.43" height="11.50" fill="#ffd500"/>
<rect x="978.48" y="102.30" width="11.42" height="11.50" fill="#eeff11"/>
<rect x="989.40" y="102.30" width="11.43" height="11.50" fill="#66ff99"/>
<rect x="1000.33" y="102.30" width="11.42" height="11.50" fill="#00eeff"/>
<rect x="1011.25" y="102.30" width="11.42" height="11.50" fill="#00e6ff"/>
<rect x="1022.17" y="102.30" width="11.42" height="11.50" fill="#0077ff"/>
<rect x="1033.10" y="102.30" width="11.43" height="11.50" fill="#0077ff"/>
<rect x="1044.03" y="102.30" width="11.42" height="11.50" fill="#0066ff"/>
<rect x="1054.95" y="102.30" width="11.42" height="11.50" fill="#0055ff"/>
<rect x="1065.88" y="102.30" width="11.42" height="11.50" fill="#0033ff"/>
<rect x="1076.80" y="102.30" width="11.42" height="11.50" fill="#001aff"/>
<rect x="1087.72" y="102.30" width="11.43" height="11.50" fill="#002aff"/>
<rect x="1098.65" y="102.30" width="11.42" height="11.50" fill="#0044ff"/>
<rect x="1109.58" y="102.30" width="11.02" height="11.50" fill="#001aff"/>
<rect x="902.00" y="113.30" width="11.42" height="11.10" fill="#00e6ff"/>
<rect x="912.92" y="113.30" width="11.43" height="11.10" fill="#3cffc3"/>
<rect x="923.85" y="113.30" width="11.42" height="11.10" fill="#99ff66"/>
<rect x="934.77" y="113.30" width="11.43" height="11.10" fill="#ffff00"/>
<rect x="945.70" y="113.30" width="11.42" height="11.10" fill="#ff8000"/>
<rect x="956.62" y="113.30" width="11.42" height="11.10" fill="#ff8000"/>
<rect x="967.55" y="113.30" width="11.43" height="11.10" fill="#ff8000"/>
<rect x="978.48" y="113.30" width="11.42" height="11.10" fill="#ffff00"/>
<rect x="989.40" y="113.30" width="11.43" height="11.10" fill="#80ff80"/>
<rect x="1000.33" y="113.30" width="11.42" height="11.10" fill="#2bffd4"/>
<rect x="1011.25" y="113.30" width="11.42" height="11.10" fill="#00aaff"/>
<rect x="1022.17" y="113.30" width="11.42" height="11.10" fill="#00b2ff"/>
<rect x="1033.10" y="113.30" width="11.43" height="11.10" fill="#0099ff"/>
<rect x="1044.03" y="113.30" width="11.42" height="11.10" fill="#0088ff"/>
<rect x="1054.95" y="113.30" width="11.42" height="11.10" fill="#0055ff"/>
<rect x="1065.88" y="113.30" width="11.42" height="11.10" fill="#0055ff"/>
<rect x="1076.80" y="113.30" width="11.42" height="11.10" fill="#002aff"/>
<rect x="1087.72" y="113.30" width="11.43" height="11.10" fill="#002aff"/>
<rect x="1098.65" y="113.30" width="11.42" height="11.10" fill="#002aff"/>
<rect x="1109.58" y="113.30" width="11.02" height="11.10" fill="#0011ff"/>
<rect x="902.00" y="123.90" width="11.42" height="11.30" fill="#00c3ff"/>
<rect x="912.92" y="123.90" width="11.43" height="11.30" fill="#00ffff"/>
<rect x="923.85" y="123.90" width="11.42" height="11.30" fill="#88ff77"/>
<rect x="934.77" y="123.90" width="11.43" height="11.30" fill="#e5ff1a"/>
<rect x="945.70" y="123.90" width="11.42" height="11.30" fill="#ffbb00"/>
<rect x="956.62" y="123.90" width="11.42" height="11.30" fill="#ff8000"/>
<rect x="967.55" y="123.90" width="11.43" height="11.30" fill="#ff8000"/>
<rect x="978.48" y="123.90" width="11.42" height="11.30" fill="#d5ff2a"/>
<rect x="989.40" y="123.90" width="11.43" height="11.30" fill="#80ff80"/>
<rect x="1000.33" y="123.90" width="11.42" height="11.30" fill="#00f7ff"/>
<rect x="1011.25" y="123.90" width="11.42" height="11.30" fill="#00bbff"/>
<rect x="1022.17" y="123.90" width="11.42" height="11.30" fill="#0090ff"/>
<rect x="1033.10" y="123.90" width="11.43" height="11.30" fill="#0080ff"/>
<rect x="1044.03" y="123.90" width="11.42" height="11.30" fill="#003cff"/>
<rect x="1054.95" y="123.90" width="11.42" height="11.30" fill="#0044ff"/>
<rect x="1065.88" y="123.90" width="11.42" height="11.30" fill="#0033ff"/>
<rect x="1076.80" y="123.90" width="11.42" height="11.30" fill="#003cff"/>
<rect x="1087.72" y="123.90" width="11.43" height="11.30" fill="#001aff"/>
<rect x="1098.65" y="123.90" width="11.42" height="11.30" fill="#004cff"/>
<rect x="1109.58" y="123.90" width="11.02" height="11.30" fill="#0077ff"/>
<rect x="902.00" y="134.70" width="11.42" height="11.80" fill="#0090ff"/>
<rect x="912.92" y="134.70" width="11.43" height="11.80" fill="#00f7ff"/>
<rect x="923.85" y="134.70" width="11.42" height="11.80" fill="#5dffa2"/>
<rect x="934.77" y="134.70" width="11.43" height="11.80" fill="#a2ff5e"/>
<rect x="945.70" y="134.70" width="11.42" height="11.80" fill="#e5ff1a"/>
<rect x="956.62" y="134.70" width="11.42" height="11.80" fill="#f7ff08"/>
<rect x="967.55" y="134.70" width="11.43" height="11.80" fill="#e5ff1a"/>
<rect x="978.48" y="134.70" width="11.42" height="11.80" fill="#99ff66"/>
<rect x="989.40" y="134.70" width="11.43" height="11.80" fill="#3cffc3"/>
<rect x="1000.33" y="134.70" width="11.42" height="11.80" fill="#2bffd4"/>
<rect x="1011.25" y="134.70" width="11.42" height="11.80" fill="#00eeff"/>
<rect x="1022.17" y="134.70" width="11.42" height="11.80" fill="#0099ff"/>
<rect x="1033.10" y="134.70" width="11.43" height="11.80" fill="#006eff"/>
<rect x="1044.03" y="134.70" width="11.42" height="11.80" fill="#0077ff"/>
<rect x="1054.95" y="134.70" width="11.42" height="11.80" fill="#006eff"/>
<rect x="1065.88" y="134.70" width="11.42" height="11.80" fill="#0033ff"/>
<rect x="1076.80" y="134.70" width="11.42" height="11.80" fill="#0044ff"/>
<rect x="1087.72" y="134.70" width="11.43" height="11.80" fill="#0011ff"/>
<rect x="1098.65" y="134.70" width="11.42" height="11.80" fill="#0008ff"/>
<rect x="1109.58" y="134.70" width="11.02" height="11.80" fill="#0044ff"/>
<rect x="902.00" y="146.00" width="11.42" height="11.30" fill="#0077ff"/>
<rect x="912.92" y="146.00" width="11.43" height="11.30" fill="#00ccff"/>
<rect x="923.85" y="146.00" width="11.42" height="11.30" fill="#08fff7"/>
<rect x="934.77" y="146.00" width="11.43" height="11.30" fill="#6eff90"/>
<rect x="945.70" y="146.00" width="11.42" height="11.30" fill="#77ff88"/>
<rect x="956.62" y="146.00" width="11.42" height="11.30" fill="#80ff80"/>
<rect x="967.55" y="146.00" width="11.43" height="11.30" fill="#77ff88"/>
<rect x="978.48" y="146.00" width="11.42" height="11.30" fill="#6eff90"/>
<rect x="989.40" y="146.00" width="11.43" height="11.30" fill="#11ffee"/>
<rect x="1000.33" y="146.00" width="11.42" height="11.30" fill="#08fff7"/>
<rect x="1011.25" y="146.00" width="11.42" height="11.30" fill="#0099ff"/>
<rect x="1022.17" y="146.00" width="11.42" height="11.30" fill="#005eff"/>
<rect x="1033.10" y="146.00" width="11.43" height="11.30" fill="#004cff"/>
<rect x="1044.03" y="146.00" width="11.42" height="11.30" fill="#0066ff"/>
<rect x="1054.95" y="146.00" width="11.42" height="11.30" fill="#0066ff"/>
<rect x="1065.88" y="146.00" width="11.42" height="11.30" fill="#0077ff"/>
<rect x="1076.80" y="146.00" width="11.42" height="11.30" fill="#005eff"/>
<rect x="1087.72" y="146.00" width="11.43" height="11.30" fill="#005eff"/>
<rect x="1098.65" y="146.00" width="11.42" height="11.30" fill="#0011ff"/>
<rect x="1109.58" y="146.00" width="11.02" height="11.30" fill="#0044ff"/>
<rect x="902.00" y="156.80" width="11.42" height="11.60" fill="#005eff"/>
<rect x="912.92" y="156.80" width="11.43" height="11.60" fill="#0080ff"/>
<rect x="923.85" y="156.80" width="11.42" height="11.60" fill="#00ccff"/>
<rect x="934.77" y="156.80" width="11.43" height="11.60" fill="#00f7ff"/>
<rect x="945.70" y="156.80" width="11.42" height="11.60" fill="#08fff7"/>
<rect x="956.62" y="156.80" width="11.42" height="11.60" fill="#2bffd4"/>
<rect x="967.55" y="156.80" width="11.43" height="11.60" fill="#00ffff"/>
<rect x="978.48" y="156.80" width="11.42" height="11.60" fill="#00aaff"/>
<rect x="989.40" y="156.80" width="11.43" height="11.60" fill="#00ddff"/>
<rect x="1000.33" y="156.80" width="11.42" height="11.60" fill="#00bbff"/>
<rect x="1011.25" y="156.80" width="11.42" height="11.60" fill="#0088ff"/>
<rect x="1022.17" y="156.80" width="11.42" height="11.60" fill="#004cff"/>
<rect x="1033.10" y="156.80" width="11.43" height="11.60" fill="#004cff"/>
<rect x="1044.03" y="156.80" width="11.42" height="11.60" fill="#004cff"/>
<rect x="1054.95" y="156.80" width="11.42" height="11.60" fill="#004cff"/>
<rect x="1065.88" y="156.80" width="11.42" height="11.60" fill="#005eff"/>
<rect x="1076.80" y="156.80" width="11.42" height="11.60" fill="#0008ff"/>
<rect x="1087.72" y="156.80" width="11.43" height="11.60" fill="#0080ff"/>
<rect x="1098.65" y="156.80" width="11.42" height="11.60" fill="#002aff"/>
<rect x="1109.58" y="156.80" width="11.02" height="11.60" fill="#0088ff"/>
<rect x="902.00" y="167.90" width="11.42" height="11.30" fill="#0044ff"/>
<rect x="912.92" y="167.90" width="11.43" height="11.30" fill="#0044ff"/>
<rect x="923.85" y="167.90" width="11.42" height="11.30" fill="#0080ff"/>
<rect x="934.77" y="167.90" width="11.43" height="11.30" fill="#00aaff"/>
<rect x="945.70" y="167.90" width="11.42" height="11.30" fill="#00b2ff"/>
<rect x="956.62" y="167.90" width="11.42" height="11.30" fill="#00a2ff"/>
<rect x="967.55" y="167.90" width="11.43" height="11.30" fill="#0080ff"/>
<rect x="978.48" y="167.90" width="11.42" height="11.30" fill="#00e6ff"/>
<rect x="989.40" y="167.90" width="11.43" height="11.30" fill="#0099ff"/>
<rect x="1000.33" y="167.90" width="11.42" height="11.30" fill="#0099ff"/>
<rect x="1011.25" y="167.90" width="11.42" height="11.30" fill="#0077ff"/>
<rect x="1022.17" y="167.90" width="11.42" height="11.30" fill="#003cff"/>
<rect x="1033.10" y="167.90" width="11.43" height="11.30" fill="#0044ff"/>
<rect x="1044.03" y="167.90" width="11.42" height="11.30" fill="#0044ff"/>
<rect x="1054.95" y="167.90" width="11.42" height="11.30" fill="#0044ff"/>
<rect x="1065.88" y="167.90" width="11.42" height="11.30" fill="#0000e5"/>
<rect x="1076.80" y="167.90" width="11.42" height="11.30" fill="#0000ff"/>
<rect x="1087.72" y="167.90" width="11.43" height="11.30" fill="#0055ff"/>
<rect x="1098.65" y="167.90" width="11.42" height="11.30" fill="#003cff"/>
<rect x="1109.58" y="167.90" width="11.02" height="11.30" fill="#0011ff"/>
<rect x="902.00" y="178.70" width="11.42" height="11.30" fill="#002aff"/>
<rect x="912.92" y="178.70" width="11.43" height="11.30" fill="#002aff"/>
<rect x="923.85" y="178.70" width="11.42" height="11.30" fill="#004cff"/>
<rect x="934.77" y="178.70" width="11.43" height="11.30" fill="#006eff"/>
<rect x="945.70" y="178.70" width="11.42" height="11.30" fill="#006eff"/>
<rect x="956.62" y="178.70" width="11.42" height="11.30" fill="#0077ff"/>
<rect x="967.55" y="178.70" width="11.43" height="11.30" fill="#005eff"/>
<rect x="978.48" y="178.70" width="11.42" height="11.30" fill="#005eff"/>
<rect x="989.40" y="178.70" width="11.43" height="11.30" fill="#005eff"/>
<rect x="1000.33" y="178.70" width="11.42" height="11.30" fill="#005eff"/>
<rect x="1011.25" y="178.70" width="11.42" height="11.30" fill="#0033ff"/>
<rect x="1022.17" y="178.70" width="11.42" height="11.30" fill="#002aff"/>
<rect x="1033.10" y="178.70" width="11.43" height="11.30" fill="#0033ff"/>
<rect x="1044.03" y="178.70" width="11.42" height="11.30" fill="#002aff"/>
<rect x="1054.95" y="178.70" width="11.42" height="11.30" fill="#0044ff"/>
<rect x="1065.88" y="178.70" width="11.42" height="11.30" fill="#0000e5"/>
<rect x="1076.80" y="178.70" width="11.42" height="11.30" fill="#0055ff"/>
<rect x="1087.72" y="178.70" width="11.43" height="11.30" fill="#0044ff"/>
<rect x="1098.65" y="178.70" width="11.42" height="11.30" fill="#005eff"/>
<rect x="1109.58" y="178.70" width="11.02" height="11.30" fill="#0011ff"/>
<rect x="902.00" y="189.50" width="11.42" height="11.30" fill="#0000ff"/>
<rect x="912.92" y="189.50" width="11.43" height="11.30" fill="#0011ff"/>
<rect x="923.85" y="189.50" width="11.42" height="11.30" fill="#002aff"/>
<rect x="934.77" y="189.50" width="11.43" height="11.30" fill="#002aff"/>
<rect x="945.70" y="189.50" width="11.42" height="11.30" fill="#004cff"/>
<rect x="956.62" y="189.50" width="11.42" height="11.30" fill="#0055ff"/>
<rect x="967.55" y="189.50" width="11.43" height="11.30" fill="#0066ff"/>
<rect x="978.48" y="189.50" width="11.42" height="11.30" fill="#0066ff"/>
<rect x="989.40" y="189.50" width="11.43" height="11.30" fill="#002aff"/>
<rect x="1000.33" y="189.50" width="11.42" height="11.30" fill="#0044ff"/>
<rect x="1011.25" y="189.50" width="11.42" height="11.30" fill="#0008ff"/>
<rect x="1022.17" y="189.50" width="11.42" height="11.30" fill="#003cff"/>
<rect x="1033.10" y="189.50" width="11.43" height="11.30" fill="#0000ff"/>
<rect x="1044.03" y="189.50" width="11.42" height="11.30" fill="#0000ff"/>
<rect x="1054.95" y="189.50" width="11.42" height="11.30" fill="#0044ff"/>
<rect x="1065.88" y="189.50" width="11.42" height="11.30" fill="#0044ff"/>
<rect x="1076.80" y="189.50" width="11.42" height="11.30" fill="#005eff"/>
<rect x="1087.72" y="189.50" width="11.43" height="11.30" fill="#0033ff"/>
<rect x="1098.65" y="189.50" width="11.42" height="11.30" fill="#0044ff"/>
<rect x="1109.58" y="189.50" width="11.02" height="11.30" fill="#0080ff"/>
<rect x="902.00" y="200.30" width="11.42" height="11.20" fill="#0000ee"/>
<rect x="912.92" y="200.30" width="11.43" height="11.20" fill="#0008ff"/>
<rect x="923.85" y="200.30" width="11.42" height="11.20" fill="#0022ff"/>
<rect x="934.77" y="200.30" width="11.43" height="11.20" fill="#0000ff"/>
<rect x="945.70" y="200.30" width="11.42" height="11.20" fill="#0008ff"/>
<rect x="956.62" y="200.30" width="11.42" height="11.20" fill="#002aff"/>
<rect x="967.55" y="200.30" width="11.43" height="11.20" fill="#002aff"/>
<rect x="978.48" y="200.30" width="11.42" height="11.20" fill="#0000aa"/>
<rect x="989.40" y="200.30" width="11.43" height="11.20" fill="#003cff"/>
<rect x="1000.33" y="200.30" width="11.42" height="11.20" fill="#002aff"/>
<rect x="1011.25" y="200.30" width="11.42" height="11.20" fill="#002aff"/>
<rect x="1022.17" y="200.30" width="11.42" height="11.20" fill="#001aff"/>
<rect x="1033.10" y="200.30" width="11.43" height="11.20" fill="#0000f6"/>
<rect x="1044.03" y="200.30" width="11.42" height="11.20" fill="#0000e5"/>
<rect x="1054.95" y="200.30" width="11.42" height="11.20" fill="#0044ff"/>
<rect x="1065.88" y="200.30" width="11.42" height="11.20" fill="#0066ff"/>
<rect x="1076.80" y="200.30" width="11.42" height="11.20" fill="#0033ff"/>
<rect x="1087.72" y="200.30" width="11.43" height="11.20" fill="#004cff"/>
<rect x="1098.65" y="200.30" width="11.42" height="11.20" fill="#0011ff"/>
<rect x="1109.58" y="200.30" width="11.02" height="11.20" fill="#001aff"/>
<rect x="902.00" y="211.00" width="11.42" height="11.30" fill="#0000ee"/>
<rect x="912.92" y="211.00" width="11.43" height="11.30" fill="#0000dd"/>
<rect x="923.85" y="211.00" width="11.42" height="11.30" fill="#0008ff"/>
<rect x="934.77" y="211.00" width="11.43" height="11.30" fill="#0011ff"/>
<rect x="945.70" y="211.00" width="11.42" height="11.30" fill="#003cff"/>
<rect x="956.62" y="211.00" width="11.42" height="11.30" fill="#001aff"/>
<rect x="967.55" y="211.00" width="11.43" height="11.30" fill="#0022ff"/>
<rect x="978.48" y="211.00" width="11.42" height="11.30" fill="#0000e5"/>
<rect x="989.40" y="211.00" width="11.43" height="11.30" fill="#003cff"/>
<rect x="1000.33" y="211.00" width="11.42" height="11.30" fill="#0008ff"/>
<rect x="1011.25" y="211.00" width="11.42" height="11.30" fill="#002aff"/>
<rect x="1022.17" y="211.00" width="11.42" height="11.30" fill="#003cff"/>
<rect x="1033.10" y="211.00" width="11.43" height="11.30" fill="#0008ff"/>
<rect x="1044.03" y="211.00" width="11.42" height="11.30" fill="#002aff"/>
<rect x="1054.95" y="211.00" width="11.42" height="11.30" fill="#002aff"/>
<rect x="1065.88" y="211.00" width="11.42" height="11.30" fill="#001aff"/>
<rect x="1076.80" y="211.00" width="11.42" height="11.30" fill="#002aff"/>
<rect x="1087.72" y="211.00" width="11.43" height="11.30" fill="#0044ff"/>
<rect x="1098.65" y="211.00" width="11.42" height="11.30" fill="#0044ff"/>
<rect x="1109.58" y="211.00" width="11.02" height="11.30" fill="#0011ff"/>
<rect x="902.00" y="221.80" width="11.42" height="2.60" fill="#0000ee"/>
<rect x="912.92" y="221.80" width="11.43" height="2.60" fill="#0000dd"/>
<rect x="923.85" y="221.80" width="11.42" height="2.60" fill="#0008ff"/>
<rect x="934.77" y="221.80" width="11.43" height="2.60" fill="#0011ff"/>
<rect x="945.70" y="221.80" width="11.42" height="2.60" fill="#003cff"/>
<rect x="956.62" y="221.80" width="11.42" height="2.60" fill="#001aff"/>
<rect x="967.55" y="221.80" width="11.43" height="2.60" fill="#0022ff"/>
<rect x="978.48" y="221.80" width="11.42" height="2.60" fill="#0000e5"/>
<rect x="989.40" y="221.80" width="11.43" height="2.60" fill="#003cff"/>
<rect x="1000.33" y="221.80" width="11.42" height="2.60" fill="#0008ff"/>
<rect x="1011.25" y="221.80" width="11.42" height="2.60" fill="#002aff"/>
<rect x="1022.17" y="221.80" width="11.42" height="2.60" fill="#003cff"/>
<rect x="1033.10" y="221.80" width="11.43" height="2.60" fill="#0008ff"/>
<rect x="1044.03" y="221.80" width="11.42" height="2.60" fill="#002aff"/>
<rect x="1054.95" y="221.80" width="11.42" height="2.60" fill="#002aff"/>
<rect x="1065.88" y="221.80" width="11.42" height="2.60" fill="#001aff"/>
<rect x="1076.80" y="221.80" width="11.42" height="2.60" fill="#002aff"/>
<rect x="1087.72" y="221.80" width="11.43" height="2.60" fill="#0044ff"/>
<rect x="1098.65" y="221.80" width="11.42" height="2.60" fill="#0044ff"/>
<rect x="1109.58" y="221.80" width="11.02" height="2.60" fill="#0011ff"/>
</g>
<line x1="962.9" y1="7.0" x2="962.9" y2="224.4" stroke="#fff" stroke-width="2.6" stroke-dasharray="7.4 3.7" stroke-dashoffset="3.5"/>
<line x1="902.0" y1="108.3" x2="1120.6" y2="108.3" stroke="#fff" stroke-width="2.6" stroke-dasharray="7.4 3.7" stroke-dashoffset="3.5"/>
<g shape-rendering="crispEdges">
<rect x="656.50" y="322.20" width="9.90" height="8.00" fill="#0008ff"/>
<rect x="665.90" y="322.20" width="11.50" height="8.00" fill="#0008ff"/>
<rect x="676.90" y="322.20" width="12.00" height="8.00" fill="#0000ff"/>
<rect x="688.40" y="322.20" width="11.50" height="8.00" fill="#0008ff"/>
<rect x="699.40" y="322.20" width="11.60" height="8.00" fill="#0000f6"/>
<rect x="710.50" y="322.20" width="11.70" height="8.00" fill="#0008ff"/>
<rect x="721.70" y="322.20" width="11.80" height="8.00" fill="#001aff"/>
<rect x="733.00" y="322.20" width="11.60" height="8.00" fill="#003cff"/>
<rect x="744.10" y="322.20" width="11.50" height="8.00" fill="#0011ff"/>
<rect x="755.10" y="322.20" width="11.60" height="8.00" fill="#004cff"/>
<rect x="766.20" y="322.20" width="11.70" height="8.00" fill="#005eff"/>
<rect x="777.40" y="322.20" width="11.80" height="8.00" fill="#005eff"/>
<rect x="788.70" y="322.20" width="11.80" height="8.00" fill="#002aff"/>
<rect x="800.00" y="322.20" width="11.70" height="8.00" fill="#0011ff"/>
<rect x="811.20" y="322.20" width="11.60" height="8.00" fill="#0044ff"/>
<rect x="822.30" y="322.20" width="11.80" height="8.00" fill="#0044ff"/>
<rect x="833.60" y="322.20" width="11.30" height="8.00" fill="#006eff"/>
<rect x="844.40" y="322.20" width="11.80" height="8.00" fill="#001aff"/>
<rect x="855.70" y="322.20" width="12.00" height="8.00" fill="#00c3ff"/>
<rect x="867.20" y="322.20" width="6.20" height="8.00" fill="#0000f6"/>
<rect x="656.50" y="329.70" width="9.90" height="11.30" fill="#0011ff"/>
<rect x="665.90" y="329.70" width="11.50" height="11.30" fill="#001aff"/>
<rect x="676.90" y="329.70" width="12.00" height="11.30" fill="#001aff"/>
<rect x="688.40" y="329.70" width="11.50" height="11.30" fill="#0011ff"/>
<rect x="699.40" y="329.70" width="11.60" height="11.30" fill="#001aff"/>
<rect x="710.50" y="329.70" width="11.70" height="11.30" fill="#0044ff"/>
<rect x="721.70" y="329.70" width="11.80" height="11.30" fill="#002aff"/>
<rect x="733.00" y="329.70" width="11.60" height="11.30" fill="#002aff"/>
<rect x="744.10" y="329.70" width="11.50" height="11.30" fill="#002aff"/>
<rect x="755.10" y="329.70" width="11.60" height="11.30" fill="#006eff"/>
<rect x="766.20" y="329.70" width="11.70" height="11.30" fill="#001aff"/>
<rect x="777.40" y="329.70" width="11.80" height="11.30" fill="#005eff"/>
<rect x="788.70" y="329.70" width="11.80" height="11.30" fill="#002aff"/>
<rect x="800.00" y="329.70" width="11.70" height="11.30" fill="#0008ff"/>
<rect x="811.20" y="329.70" width="11.60" height="11.30" fill="#001aff"/>
<rect x="822.30" y="329.70" width="11.80" height="11.30" fill="#0011ff"/>
<rect x="833.60" y="329.70" width="11.30" height="11.30" fill="#0000dd"/>
<rect x="844.40" y="329.70" width="11.80" height="11.30" fill="#0080ff"/>
<rect x="855.70" y="329.70" width="12.00" height="11.30" fill="#0044ff"/>
<rect x="867.20" y="329.70" width="6.20" height="11.30" fill="#002aff"/>
<rect x="656.50" y="340.50" width="9.90" height="11.80" fill="#001aff"/>
<rect x="665.90" y="340.50" width="11.50" height="11.80" fill="#0011ff"/>
<rect x="676.90" y="340.50" width="12.00" height="11.80" fill="#0011ff"/>
<rect x="688.40" y="340.50" width="11.50" height="11.80" fill="#0000ff"/>
<rect x="699.40" y="340.50" width="11.60" height="11.80" fill="#0044ff"/>
<rect x="710.50" y="340.50" width="11.70" height="11.80" fill="#002aff"/>
<rect x="721.70" y="340.50" width="11.80" height="11.80" fill="#003cff"/>
<rect x="733.00" y="340.50" width="11.60" height="11.80" fill="#0077ff"/>
<rect x="744.10" y="340.50" width="11.50" height="11.80" fill="#002aff"/>
<rect x="755.10" y="340.50" width="11.60" height="11.80" fill="#003cff"/>
<rect x="766.20" y="340.50" width="11.70" height="11.80" fill="#001aff"/>
<rect x="777.40" y="340.50" width="11.80" height="11.80" fill="#0055ff"/>
<rect x="788.70" y="340.50" width="11.80" height="11.80" fill="#005eff"/>
<rect x="800.00" y="340.50" width="11.70" height="11.80" fill="#002aff"/>
<rect x="811.20" y="340.50" width="11.60" height="11.80" fill="#0000c3"/>
<rect x="822.30" y="340.50" width="11.80" height="11.80" fill="#001aff"/>
<rect x="833.60" y="340.50" width="11.30" height="11.80" fill="#000099"/>
<rect x="844.40" y="340.50" width="11.80" height="11.80" fill="#0080ff"/>
<rect x="855.70" y="340.50" width="12.00" height="11.80" fill="#000099"/>
<rect x="867.20" y="340.50" width="6.20" height="11.80" fill="#08fff7"/>
<rect x="656.50" y="351.80" width="9.90" height="11.60" fill="#0000ff"/>
<rect x="665.90" y="351.80" width="11.50" height="11.60" fill="#0008ff"/>
<rect x="676.90" y="351.80" width="12.00" height="11.60" fill="#0008ff"/>
<rect x="688.40" y="351.80" width="11.50" height="11.60" fill="#0022ff"/>
<rect x="699.40" y="351.80" width="11.60" height="11.60" fill="#004cff"/>
<rect x="710.50" y="351.80" width="11.70" height="11.60" fill="#0044ff"/>
<rect x="721.70" y="351.80" width="11.80" height="11.60" fill="#0055ff"/>
<rect x="733.00" y="351.80" width="11.60" height="11.60" fill="#0077ff"/>
<rect x="744.10" y="351.80" width="11.50" height="11.60" fill="#003cff"/>
<rect x="755.10" y="351.80" width="11.60" height="11.60" fill="#0044ff"/>
<rect x="766.20" y="351.80" width="11.70" height="11.60" fill="#003cff"/>
<rect x="777.40" y="351.80" width="11.80" height="11.60" fill="#003cff"/>
<rect x="788.70" y="351.80" width="11.80" height="11.60" fill="#005eff"/>
<rect x="800.00" y="351.80" width="11.70" height="11.60" fill="#005eff"/>
<rect x="811.20" y="351.80" width="11.60" height="11.60" fill="#0022ff"/>
<rect x="822.30" y="351.80" width="11.80" height="11.60" fill="#002aff"/>
<rect x="833.60" y="351.80" width="11.30" height="11.60" fill="#0008ff"/>
<rect x="844.40" y="351.80" width="11.80" height="11.60" fill="#0055ff"/>
<rect x="855.70" y="351.80" width="12.00" height="11.60" fill="#0000d4"/>
<rect x="867.20" y="351.80" width="6.20" height="11.60" fill="#800000"/>
<rect x="656.50" y="362.90" width="9.90" height="11.70" fill="#0011ff"/>
<rect x="665.90" y="362.90" width="11.50" height="11.70" fill="#003cff"/>
<rect x="676.90" y="362.90" width="12.00" height="11.70" fill="#0055ff"/>
<rect x="688.40" y="362.90" width="11.50" height="11.70" fill="#0077ff"/>
<rect x="699.40" y="362.90" width="11.60" height="11.70" fill="#0077ff"/>
<rect x="710.50" y="362.90" width="11.70" height="11.70" fill="#0077ff"/>
<rect x="721.70" y="362.90" width="11.80" height="11.70" fill="#0080ff"/>
<rect x="733.00" y="362.90" width="11.60" height="11.70" fill="#0090ff"/>
<rect x="744.10" y="362.90" width="11.50" height="11.70" fill="#0090ff"/>
<rect x="755.10" y="362.90" width="11.60" height="11.70" fill="#004cff"/>
<rect x="766.20" y="362.90" width="11.70" height="11.70" fill="#005eff"/>
<rect x="777.40" y="362.90" width="11.80" height="11.70" fill="#003cff"/>
<rect x="788.70" y="362.90" width="11.80" height="11.70" fill="#0022ff"/>
<rect x="800.00" y="362.90" width="11.70" height="11.70" fill="#0080ff"/>
<rect x="811.20" y="362.90" width="11.60" height="11.70" fill="#0044ff"/>
<rect x="822.30" y="362.90" width="11.80" height="11.70" fill="#004cff"/>
<rect x="833.60" y="362.90" width="11.30" height="11.70" fill="#0008ff"/>
<rect x="844.40" y="362.90" width="11.80" height="11.70" fill="#0044ff"/>
<rect x="855.70" y="362.90" width="12.00" height="11.70" fill="#0077ff"/>
<rect x="867.20" y="362.90" width="6.20" height="11.70" fill="#b2ff4d"/>
<rect x="656.50" y="374.10" width="9.90" height="11.80" fill="#002aff"/>
<rect x="665.90" y="374.10" width="11.50" height="11.80" fill="#0033ff"/>
<rect x="676.90" y="374.10" width="12.00" height="11.80" fill="#0077ff"/>
<rect x="688.40" y="374.10" width="11.50" height="11.80" fill="#0090ff"/>
<rect x="699.40" y="374.10" width="11.60" height="11.80" fill="#00ccff"/>
<rect x="710.50" y="374.10" width="11.70" height="11.80" fill="#00b2ff"/>
<rect x="721.70" y="374.10" width="11.80" height="11.80" fill="#00f7ff"/>
<rect x="733.00" y="374.10" width="11.60" height="11.80" fill="#00ffff"/>
<rect x="744.10" y="374.10" width="11.50" height="11.80" fill="#00f7ff"/>
<rect x="755.10" y="374.10" width="11.60" height="11.80" fill="#0090ff"/>
<rect x="766.20" y="374.10" width="11.70" height="11.80" fill="#006eff"/>
<rect x="777.40" y="374.10" width="11.80" height="11.80" fill="#0055ff"/>
<rect x="788.70" y="374.10" width="11.80" height="11.80" fill="#0044ff"/>
<rect x="800.00" y="374.10" width="11.70" height="11.80" fill="#003cff"/>
<rect x="811.20" y="374.10" width="11.60" height="11.80" fill="#005eff"/>
<rect x="822.30" y="374.10" width="11.80" height="11.80" fill="#001aff"/>
<rect x="833.60" y="374.10" width="11.30" height="11.80" fill="#0011ff"/>
<rect x="844.40" y="374.10" width="11.80" height="11.80" fill="#0000ff"/>
<rect x="855.70" y="374.10" width="12.00" height="11.80" fill="#0044ff"/>
<rect x="867.20" y="374.10" width="6.20" height="11.80" fill="#005eff"/>
<rect x="656.50" y="385.40" width="9.90" height="11.60" fill="#003cff"/>
<rect x="665.90" y="385.40" width="11.50" height="11.60" fill="#005eff"/>
<rect x="676.90" y="385.40" width="12.00" height="11.60" fill="#00c3ff"/>
<rect x="688.40" y="385.40" width="11.50" height="11.60" fill="#3cffc3"/>
<rect x="699.40" y="385.40" width="11.60" height="11.60" fill="#44ffbb"/>
<rect x="710.50" y="385.40" width="11.70" height="11.60" fill="#5dffa2"/>
<rect x="721.70" y="385.40" width="11.80" height="11.60" fill="#66ff99"/>
<rect x="733.00" y="385.40" width="11.60" height="11.60" fill="#6eff90"/>
<rect x="744.10" y="385.40" width="11.50" height="11.60" fill="#44ffbb"/>
<rect x="755.10" y="385.40" width="11.60" height="11.60" fill="#00ccff"/>
<rect x="766.20" y="385.40" width="11.70" height="11.60" fill="#006eff"/>
<rect x="777.40" y="385.40" width="11.80" height="11.60" fill="#005eff"/>
<rect x="788.70" y="385.40" width="11.80" height="11.60" fill="#0044ff"/>
<rect x="800.00" y="385.40" width="11.70" height="11.60" fill="#0044ff"/>
<rect x="811.20" y="385.40" width="11.60" height="11.60" fill="#00bbff"/>
<rect x="822.30" y="385.40" width="11.80" height="11.60" fill="#0022ff"/>
<rect x="833.60" y="385.40" width="11.30" height="11.60" fill="#0011ff"/>
<rect x="844.40" y="385.40" width="11.80" height="11.60" fill="#0008ff"/>
<rect x="855.70" y="385.40" width="12.00" height="11.60" fill="#004cff"/>
<rect x="867.20" y="385.40" width="6.20" height="11.60" fill="#0011ff"/>
<rect x="656.50" y="396.50" width="9.90" height="11.90" fill="#0044ff"/>
<rect x="665.90" y="396.50" width="11.50" height="11.90" fill="#0099ff"/>
<rect x="676.90" y="396.50" width="12.00" height="11.90" fill="#00ffff"/>
<rect x="688.40" y="396.50" width="11.50" height="11.90" fill="#77ff88"/>
<rect x="699.40" y="396.50" width="11.60" height="11.90" fill="#ccff33"/>
<rect x="710.50" y="396.50" width="11.70" height="11.90" fill="#ffdd00"/>
<rect x="721.70" y="396.50" width="11.80" height="11.90" fill="#ffee00"/>
<rect x="733.00" y="396.50" width="11.60" height="11.90" fill="#c3ff3c"/>
<rect x="744.10" y="396.50" width="11.50" height="11.90" fill="#c3ff3c"/>
<rect x="755.10" y="396.50" width="11.60" height="11.90" fill="#55ffaa"/>
<rect x="766.20" y="396.50" width="11.70" height="11.90" fill="#00ffff"/>
<rect x="777.40" y="396.50" width="11.80" height="11.90" fill="#0077ff"/>
<rect x="788.70" y="396.50" width="11.80" height="11.90" fill="#006eff"/>
<rect x="800.00" y="396.50" width="11.70" height="11.90" fill="#0055ff"/>
<rect x="811.20" y="396.50" width="11.60" height="11.90" fill="#0055ff"/>
<rect x="822.30" y="396.50" width="11.80" height="11.90" fill="#003cff"/>
<rect x="833.60" y="396.50" width="11.30" height="11.90" fill="#005eff"/>
<rect x="844.40" y="396.50" width="11.80" height="11.90" fill="#0055ff"/>
<rect x="855.70" y="396.50" width="12.00" height="11.90" fill="#0066ff"/>
<rect x="867.20" y="396.50" width="6.20" height="11.90" fill="#0011ff"/>
<rect x="656.50" y="407.90" width="9.90" height="11.60" fill="#00a2ff"/>
<rect x="665.90" y="407.90" width="11.50" height="11.60" fill="#00d4ff"/>
<rect x="676.90" y="407.90" width="12.00" height="11.60" fill="#55ffaa"/>
<rect x="688.40" y="407.90" width="11.50" height="11.60" fill="#a2ff5e"/>
<rect x="699.40" y="407.90" width="11.60" height="11.60" fill="#ff9000"/>
<rect x="710.50" y="407.90" width="11.70" height="11.60" fill="#d50000"/>
<rect x="721.70" y="407.90" width="11.80" height="11.60" fill="#ee0000"/>
<rect x="733.00" y="407.90" width="11.60" height="11.60" fill="#ff9900"/>
<rect x="744.10" y="407.90" width="11.50" height="11.60" fill="#fff700"/>
<rect x="755.10" y="407.90" width="11.60" height="11.60" fill="#6eff90"/>
<rect x="766.20" y="407.90" width="11.70" height="11.60" fill="#2bffd4"/>
<rect x="777.40" y="407.90" width="11.80" height="11.60" fill="#00e6ff"/>
<rect x="788.70" y="407.90" width="11.80" height="11.60" fill="#00aaff"/>
<rect x="800.00" y="407.90" width="11.70" height="11.60" fill="#005eff"/>
<rect x="811.20" y="407.90" width="11.60" height="11.60" fill="#0090ff"/>
<rect x="822.30" y="407.90" width="11.80" height="11.60" fill="#0000dd"/>
<rect x="833.60" y="407.90" width="11.30" height="11.60" fill="#0066ff"/>
<rect x="844.40" y="407.90" width="11.80" height="11.60" fill="#0008ff"/>
<rect x="855.70" y="407.90" width="12.00" height="11.60" fill="#0099ff"/>
<rect x="867.20" y="407.90" width="6.20" height="11.60" fill="#0080ff"/>
<rect x="656.50" y="419.00" width="9.90" height="11.50" fill="#00d4ff"/>
<rect x="665.90" y="419.00" width="11.50" height="11.50" fill="#00ffff"/>
<rect x="676.90" y="419.00" width="12.00" height="11.50" fill="#66ff99"/>
<rect x="688.40" y="419.00" width="11.50" height="11.50" fill="#ffff00"/>
<rect x="699.40" y="419.00" width="11.60" height="11.50" fill="#ff5500"/>
<rect x="710.50" y="419.00" width="11.70" height="11.50" fill="#800000"/>
<rect x="721.70" y="419.00" width="11.80" height="11.50" fill="#880000"/>
<rect x="733.00" y="419.00" width="11.60" height="11.50" fill="#f70000"/>
<rect x="744.10" y="419.00" width="11.50" height="11.50" fill="#ffc400"/>
<rect x="755.10" y="419.00" width="11.60" height="11.50" fill="#99ff66"/>
<rect x="766.20" y="419.00" width="11.70" height="11.50" fill="#44ffbb"/>
<rect x="777.40" y="419.00" width="11.80" height="11.50" fill="#2bffd4"/>
<rect x="788.70" y="419.00" width="11.80" height="11.50" fill="#00a2ff"/>
<rect x="800.00" y="419.00" width="11.70" height="11.50" fill="#005eff"/>
<rect x="811.20" y="419.00" width="11.60" height="11.50" fill="#003cff"/>
<rect x="822.30" y="419.00" width="11.80" height="11.50" fill="#0044ff"/>
<rect x="833.60" y="419.00" width="11.30" height="11.50" fill="#0066ff"/>
<rect x="844.40" y="419.00" width="11.80" height="11.50" fill="#0044ff"/>
<rect x="855.70" y="419.00" width="12.00" height="11.50" fill="#0000d4"/>
<rect x="867.20" y="419.00" width="6.20" height="11.50" fill="#0000ff"/>
<rect x="656.50" y="430.00" width="9.90" height="11.60" fill="#00e6ff"/>
<rect x="665.90" y="430.00" width="11.50" height="11.60" fill="#19ffe6"/>
<rect x="676.90" y="430.00" width="12.00" height="11.60" fill="#80ff80"/>
<rect x="688.40" y="430.00" width="11.50" height="11.60" fill="#ffe500"/>
<rect x="699.40" y="430.00" width="11.60" height="11.60" fill="#ff8000"/>
<rect x="710.50" y="430.00" width="11.70" height="11.60" fill="#a20000"/>
<rect x="721.70" y="430.00" width="11.80" height="11.60" fill="#a20000"/>
<rect x="733.00" y="430.00" width="11.60" height="11.60" fill="#ff0000"/>
<rect x="744.10" y="430.00" width="11.50" height="11.60" fill="#ffd500"/>
<rect x="755.10" y="430.00" width="11.60" height="11.60" fill="#f7ff08"/>
<rect x="766.20" y="430.00" width="11.70" height="11.60" fill="#44ffbb"/>
<rect x="777.40" y="430.00" width="11.80" height="11.60" fill="#00eeff"/>
<rect x="788.70" y="430.00" width="11.80" height="11.60" fill="#00c3ff"/>
<rect x="800.00" y="430.00" width="11.70" height="11.60" fill="#0066ff"/>
<rect x="811.20" y="430.00" width="11.60" height="11.60" fill="#005eff"/>
<rect x="822.30" y="430.00" width="11.80" height="11.60" fill="#005eff"/>
<rect x="833.60" y="430.00" width="11.30" height="11.60" fill="#00c3ff"/>
<rect x="844.40" y="430.00" width="11.80" height="11.60" fill="#0066ff"/>
<rect x="855.70" y="430.00" width="12.00" height="11.60" fill="#004cff"/>
<rect x="867.20" y="430.00" width="6.20" height="11.60" fill="#0011ff"/>
<rect x="656.50" y="441.10" width="9.90" height="11.90" fill="#00d4ff"/>
<rect x="665.90" y="441.10" width="11.50" height="11.90" fill="#08fff7"/>
<rect x="676.90" y="441.10" width="12.00" height="11.90" fill="#44ffbb"/>
<rect x="688.40" y="441.10" width="11.50" height="11.90" fill="#d5ff2a"/>
<rect x="699.40" y="441.10" width="11.60" height="11.90" fill="#ff9000"/>
<rect x="710.50" y="441.10" width="11.70" height="11.90" fill="#f70000"/>
<rect x="721.70" y="441.10" width="11.80" height="11.90" fill="#ff2a00"/>
<rect x="733.00" y="441.10" width="11.60" height="11.90" fill="#ff2a00"/>
<rect x="744.10" y="441.10" width="11.50" height="11.90" fill="#f7ff08"/>
<rect x="755.10" y="441.10" width="11.60" height="11.90" fill="#99ff66"/>
<rect x="766.20" y="441.10" width="11.70" height="11.90" fill="#00b2ff"/>
<rect x="777.40" y="441.10" width="11.80" height="11.90" fill="#00ddff"/>
<rect x="788.70" y="441.10" width="11.80" height="11.90" fill="#00ccff"/>
<rect x="800.00" y="441.10" width="11.70" height="11.90" fill="#0099ff"/>
<rect x="811.20" y="441.10" width="11.60" height="11.90" fill="#0066ff"/>
<rect x="822.30" y="441.10" width="11.80" height="11.90" fill="#003cff"/>
<rect x="833.60" y="441.10" width="11.30" height="11.90" fill="#0077ff"/>
<rect x="844.40" y="441.10" width="11.80" height="11.90" fill="#0008ff"/>
<rect x="855.70" y="441.10" width="12.00" height="11.90" fill="#0099ff"/>
<rect x="867.20" y="441.10" width="6.20" height="11.90" fill="#0000ff"/>
<rect x="656.50" y="452.50" width="9.90" height="11.80" fill="#00aaff"/>
<rect x="665.90" y="452.50" width="11.50" height="11.80" fill="#00d4ff"/>
<rect x="676.90" y="452.50" width="12.00" height="11.80" fill="#19ffe6"/>
<rect x="688.40" y="452.50" width="11.50" height="11.80" fill="#b2ff4d"/>
<rect x="699.40" y="452.50" width="11.60" height="11.80" fill="#fff700"/>
<rect x="710.50" y="452.50" width="11.70" height="11.80" fill="#ff9900"/>
<rect x="721.70" y="452.50" width="11.80" height="11.80" fill="#ffbb00"/>
<rect x="733.00" y="452.50" width="11.60" height="11.80" fill="#ff9000"/>
<rect x="744.10" y="452.50" width="11.50" height="11.80" fill="#eeff11"/>
<rect x="755.10" y="452.50" width="11.60" height="11.80" fill="#99ff66"/>
<rect x="766.20" y="452.50" width="11.70" height="11.80" fill="#00ffff"/>
<rect x="777.40" y="452.50" width="11.80" height="11.80" fill="#00c3ff"/>
<rect x="788.70" y="452.50" width="11.80" height="11.80" fill="#00c3ff"/>
<rect x="800.00" y="452.50" width="11.70" height="11.80" fill="#0099ff"/>
<rect x="811.20" y="452.50" width="11.60" height="11.80" fill="#003cff"/>
<rect x="822.30" y="452.50" width="11.80" height="11.80" fill="#005eff"/>
<rect x="833.60" y="452.50" width="11.30" height="11.80" fill="#006eff"/>
<rect x="844.40" y="452.50" width="11.80" height="11.80" fill="#0055ff"/>
<rect x="855.70" y="452.50" width="12.00" height="11.80" fill="#0011ff"/>
<rect x="867.20" y="452.50" width="6.20" height="11.80" fill="#0077ff"/>
<rect x="656.50" y="463.80" width="9.90" height="11.60" fill="#0099ff"/>
<rect x="665.90" y="463.80" width="11.50" height="11.60" fill="#00aaff"/>
<rect x="676.90" y="463.80" width="12.00" height="11.60" fill="#2bffd4"/>
<rect x="688.40" y="463.80" width="11.50" height="11.60" fill="#88ff77"/>
<rect x="699.40" y="463.80" width="11.60" height="11.60" fill="#a2ff5e"/>
<rect x="710.50" y="463.80" width="11.70" height="11.60" fill="#f7ff08"/>
<rect x="721.70" y="463.80" width="11.80" height="11.60" fill="#e5ff1a"/>
<rect x="733.00" y="463.80" width="11.60" height="11.60" fill="#bbff44"/>
<rect x="744.10" y="463.80" width="11.50" height="11.60" fill="#80ff80"/>
<rect x="755.10" y="463.80" width="11.60" height="11.60" fill="#77ff88"/>
<rect x="766.20" y="463.80" width="11.70" height="11.60" fill="#11ffee"/>
<rect x="777.40" y="463.80" width="11.80" height="11.60" fill="#00ccff"/>
<rect x="788.70" y="463.80" width="11.80" height="11.60" fill="#00f7ff"/>
<rect x="800.00" y="463.80" width="11.70" height="11.60" fill="#004cff"/>
<rect x="811.20" y="463.80" width="11.60" height="11.60" fill="#00aaff"/>
<rect x="822.30" y="463.80" width="11.80" height="11.60" fill="#005eff"/>
<rect x="833.60" y="463.80" width="11.30" height="11.60" fill="#0077ff"/>
<rect x="844.40" y="463.80" width="11.80" height="11.60" fill="#002aff"/>
<rect x="855.70" y="463.80" width="12.00" height="11.60" fill="#001aff"/>
<rect x="867.20" y="463.80" width="6.20" height="11.60" fill="#005eff"/>
<rect x="656.50" y="474.90" width="9.90" height="11.70" fill="#0066ff"/>
<rect x="665.90" y="474.90" width="11.50" height="11.70" fill="#0080ff"/>
<rect x="676.90" y="474.90" width="12.00" height="11.70" fill="#00bbff"/>
<rect x="688.40" y="474.90" width="11.50" height="11.70" fill="#19ffe6"/>
<rect x="699.40" y="474.90" width="11.60" height="11.70" fill="#44ffbb"/>
<rect x="710.50" y="474.90" width="11.70" height="11.70" fill="#77ff88"/>
<rect x="721.70" y="474.90" width="11.80" height="11.70" fill="#4dffb2"/>
<rect x="733.00" y="474.90" width="11.60" height="11.70" fill="#2bffd4"/>
<rect x="744.10" y="474.90" width="11.50" height="11.70" fill="#08fff7"/>
<rect x="755.10" y="474.90" width="11.60" height="11.70" fill="#3cffc3"/>
<rect x="766.20" y="474.90" width="11.70" height="11.70" fill="#00aaff"/>
<rect x="777.40" y="474.90" width="11.80" height="11.70" fill="#00d4ff"/>
<rect x="788.70" y="474.90" width="11.80" height="11.70" fill="#0077ff"/>
<rect x="800.00" y="474.90" width="11.70" height="11.70" fill="#005eff"/>
<rect x="811.20" y="474.90" width="11.60" height="11.70" fill="#0080ff"/>
<rect x="822.30" y="474.90" width="11.80" height="11.70" fill="#0066ff"/>
<rect x="833.60" y="474.90" width="11.30" height="11.70" fill="#006eff"/>
<rect x="844.40" y="474.90" width="11.80" height="11.70" fill="#0090ff"/>
<rect x="855.70" y="474.90" width="12.00" height="11.70" fill="#0011ff"/>
<rect x="867.20" y="474.90" width="6.20" height="11.70" fill="#003cff"/>
<rect x="656.50" y="486.10" width="9.90" height="11.80" fill="#004cff"/>
<rect x="665.90" y="486.10" width="11.50" height="11.80" fill="#0055ff"/>
<rect x="676.90" y="486.10" width="12.00" height="11.80" fill="#0090ff"/>
<rect x="688.40" y="486.10" width="11.50" height="11.80" fill="#00bbff"/>
<rect x="699.40" y="486.10" width="11.60" height="11.80" fill="#00ccff"/>
<rect x="710.50" y="486.10" width="11.70" height="11.80" fill="#00e6ff"/>
<rect x="721.70" y="486.10" width="11.80" height="11.80" fill="#00eeff"/>
<rect x="733.00" y="486.10" width="11.60" height="11.80" fill="#00f7ff"/>
<rect x="744.10" y="486.10" width="11.50" height="11.80" fill="#00e6ff"/>
<rect x="755.10" y="486.10" width="11.60" height="11.80" fill="#00eeff"/>
<rect x="766.20" y="486.10" width="11.70" height="11.80" fill="#00b2ff"/>
<rect x="777.40" y="486.10" width="11.80" height="11.80" fill="#0055ff"/>
<rect x="788.70" y="486.10" width="11.80" height="11.80" fill="#0044ff"/>
<rect x="800.00" y="486.10" width="11.70" height="11.80" fill="#00a2ff"/>
<rect x="811.20" y="486.10" width="11.60" height="11.80" fill="#001aff"/>
<rect x="822.30" y="486.10" width="11.80" height="11.80" fill="#0066ff"/>
<rect x="833.60" y="486.10" width="11.30" height="11.80" fill="#0044ff"/>
<rect x="844.40" y="486.10" width="11.80" height="11.80" fill="#003cff"/>
<rect x="855.70" y="486.10" width="12.00" height="11.80" fill="#004cff"/>
<rect x="867.20" y="486.10" width="6.20" height="11.80" fill="#0044ff"/>
<rect x="656.50" y="497.40" width="9.90" height="11.60" fill="#0033ff"/>
<rect x="665.90" y="497.40" width="11.50" height="11.60" fill="#003cff"/>
<rect x="676.90" y="497.40" width="12.00" height="11.60" fill="#0055ff"/>
<rect x="688.40" y="497.40" width="11.50" height="11.60" fill="#0088ff"/>
<rect x="699.40" y="497.40" width="11.60" height="11.60" fill="#0088ff"/>
<rect x="710.50" y="497.40" width="11.70" height="11.60" fill="#0090ff"/>
<rect x="721.70" y="497.40" width="11.80" height="11.60" fill="#0099ff"/>
<rect x="733.00" y="497.40" width="11.60" height="11.60" fill="#0080ff"/>
<rect x="744.10" y="497.40" width="11.50" height="11.60" fill="#0090ff"/>
<rect x="755.10" y="497.40" width="11.60" height="11.60" fill="#00a2ff"/>
<rect x="766.20" y="497.40" width="11.70" height="11.60" fill="#00a2ff"/>
<rect x="777.40" y="497.40" width="11.80" height="11.60" fill="#0044ff"/>
<rect x="788.70" y="497.40" width="11.80" height="11.60" fill="#0044ff"/>
<rect x="800.00" y="497.40" width="11.70" height="11.60" fill="#003cff"/>
<rect x="811.20" y="497.40" width="11.60" height="11.60" fill="#0008ff"/>
<rect x="822.30" y="497.40" width="11.80" height="11.60" fill="#002aff"/>
<rect x="833.60" y="497.40" width="11.30" height="11.60" fill="#0044ff"/>
<rect x="844.40" y="497.40" width="11.80" height="11.60" fill="#0000ff"/>
<rect x="855.70" y="497.40" width="12.00" height="11.60" fill="#004cff"/>
<rect x="867.20" y="497.40" width="6.20" height="11.60" fill="#001aff"/>
<rect x="656.50" y="508.50" width="9.90" height="11.90" fill="#0008ff"/>
<rect x="665.90" y="508.50" width="11.50" height="11.90" fill="#0011ff"/>
<rect x="676.90" y="508.50" width="12.00" height="11.90" fill="#001aff"/>
<rect x="688.40" y="508.50" width="11.50" height="11.90" fill="#0044ff"/>
<rect x="699.40" y="508.50" width="11.60" height="11.90" fill="#0066ff"/>
<rect x="710.50" y="508.50" width="11.70" height="11.90" fill="#006eff"/>
<rect x="721.70" y="508.50" width="11.80" height="11.90" fill="#005eff"/>
<rect x="733.00" y="508.50" width="11.60" height="11.90" fill="#003cff"/>
<rect x="744.10" y="508.50" width="11.50" height="11.90" fill="#0033ff"/>
<rect x="755.10" y="508.50" width="11.60" height="11.90" fill="#0066ff"/>
<rect x="766.20" y="508.50" width="11.70" height="11.90" fill="#006eff"/>
<rect x="777.40" y="508.50" width="11.80" height="11.90" fill="#003cff"/>
<rect x="788.70" y="508.50" width="11.80" height="11.90" fill="#0000ff"/>
<rect x="800.00" y="508.50" width="11.70" height="11.90" fill="#0000ff"/>
<rect x="811.20" y="508.50" width="11.60" height="11.90" fill="#0000f6"/>
<rect x="822.30" y="508.50" width="11.80" height="11.90" fill="#002aff"/>
<rect x="833.60" y="508.50" width="11.30" height="11.90" fill="#004cff"/>
<rect x="844.40" y="508.50" width="11.80" height="11.90" fill="#005eff"/>
<rect x="855.70" y="508.50" width="12.00" height="11.90" fill="#003cff"/>
<rect x="867.20" y="508.50" width="6.20" height="11.90" fill="#002aff"/>
<rect x="656.50" y="519.90" width="9.90" height="11.60" fill="#0000ff"/>
<rect x="665.90" y="519.90" width="11.50" height="11.60" fill="#0000f6"/>
<rect x="676.90" y="519.90" width="12.00" height="11.60" fill="#0008ff"/>
<rect x="688.40" y="519.90" width="11.50" height="11.60" fill="#0008ff"/>
<rect x="699.40" y="519.90" width="11.60" height="11.60" fill="#004cff"/>
<rect x="710.50" y="519.90" width="11.70" height="11.60" fill="#005eff"/>
<rect x="721.70" y="519.90" width="11.80" height="11.60" fill="#0044ff"/>
<rect x="733.00" y="519.90" width="11.60" height="11.60" fill="#004cff"/>
<rect x="744.10" y="519.90" width="11.50" height="11.60" fill="#0022ff"/>
<rect x="755.10" y="519.90" width="11.60" height="11.60" fill="#0022ff"/>
<rect x="766.20" y="519.90" width="11.70" height="11.60" fill="#006eff"/>
<rect x="777.40" y="519.90" width="11.80" height="11.60" fill="#003cff"/>
<rect x="788.70" y="519.90" width="11.80" height="11.60" fill="#001aff"/>
<rect x="800.00" y="519.90" width="11.70" height="11.60" fill="#0000e5"/>
<rect x="811.20" y="519.90" width="11.60" height="11.60" fill="#001aff"/>
<rect x="822.30" y="519.90" width="11.80" height="11.60" fill="#005eff"/>
<rect x="833.60" y="519.90" width="11.30" height="11.60" fill="#002aff"/>
<rect x="844.40" y="519.90" width="11.80" height="11.60" fill="#0022ff"/>
<rect x="855.70" y="519.90" width="12.00" height="11.60" fill="#0077ff"/>
<rect x="867.20" y="519.90" width="6.20" height="11.60" fill="#0011ff"/>
<rect x="656.50" y="531.00" width="9.90" height="11.30" fill="#0000ff"/>
<rect x="665.90" y="531.00" width="11.50" height="11.30" fill="#0000ee"/>
<rect x="676.90" y="531.00" width="12.00" height="11.30" fill="#0000dd"/>
<rect x="688.40" y="531.00" width="11.50" height="11.30" fill="#0000f6"/>
<rect x="699.40" y="531.00" width="11.60" height="11.30" fill="#0011ff"/>
<rect x="710.50" y="531.00" width="11.70" height="11.30" fill="#0022ff"/>
<rect x="721.70" y="531.00" width="11.80" height="11.30" fill="#003cff"/>
<rect x="733.00" y="531.00" width="11.60" height="11.30" fill="#0044ff"/>
<rect x="744.10" y="531.00" width="11.50" height="11.30" fill="#002aff"/>
<rect x="755.10" y="531.00" width="11.60" height="11.30" fill="#002aff"/>
<rect x="766.20" y="531.00" width="11.70" height="11.30" fill="#0066ff"/>
<rect x="777.40" y="531.00" width="11.80" height="11.30" fill="#0008ff"/>
<rect x="788.70" y="531.00" width="11.80" height="11.30" fill="#0011ff"/>
<rect x="800.00" y="531.00" width="11.70" height="11.30" fill="#0000dd"/>
<rect x="811.20" y="531.00" width="11.60" height="11.30" fill="#0011ff"/>
<rect x="822.30" y="531.00" width="11.80" height="11.30" fill="#0055ff"/>
<rect x="833.60" y="531.00" width="11.30" height="11.30" fill="#0066ff"/>
<rect x="844.40" y="531.00" width="11.80" height="11.30" fill="#0000ff"/>
<rect x="855.70" y="531.00" width="12.00" height="11.30" fill="#0077ff"/>
<rect x="867.20" y="531.00" width="6.20" height="11.30" fill="#0011ff"/>
</g>
<line x1="727.6" y1="322.2" x2="727.6" y2="542.3" stroke="#fff" stroke-width="2.6" stroke-dasharray="7.4 3.7" stroke-dashoffset="3.5"/>
<line x1="656.5" y1="424.4" x2="873.4" y2="424.4" stroke="#fff" stroke-width="2.6" stroke-dasharray="7.4 3.7" stroke-dashoffset="3.5"/>
<g shape-rendering="crispEdges">
<rect x="898.30" y="321.20" width="9.93" height="4.80" fill="#0000f6"/>
<rect x="907.73" y="321.20" width="9.93" height="4.80" fill="#0000f6"/>
<rect x="917.16" y="321.20" width="9.93" height="4.80" fill="#0000f6"/>
<rect x="926.59" y="321.20" width="9.93" height="4.80" fill="#0000dd"/>
<rect x="936.02" y="321.20" width="9.93" height="4.80" fill="#0000dd"/>
<rect x="945.45" y="321.20" width="9.93" height="4.80" fill="#0000f6"/>
<rect x="954.88" y="321.20" width="9.93" height="4.80" fill="#0000f6"/>
<rect x="964.31" y="321.20" width="9.93" height="4.80" fill="#0008ff"/>
<rect x="973.74" y="321.20" width="9.93" height="4.80" fill="#001aff"/>
<rect x="983.17" y="321.20" width="9.93" height="4.80" fill="#0011ff"/>
<rect x="992.60" y="321.20" width="9.93" height="4.80" fill="#0008ff"/>
<rect x="1002.03" y="321.20" width="9.93" height="4.80" fill="#0055ff"/>
<rect x="1011.46" y="321.20" width="9.93" height="4.80" fill="#0000f6"/>
<rect x="1020.89" y="321.20" width="9.93" height="4.80" fill="#003cff"/>
<rect x="1030.32" y="321.20" width="9.93" height="4.80" fill="#0011ff"/>
<rect x="1039.75" y="321.20" width="9.93" height="4.80" fill="#0000ee"/>
<rect x="1049.18" y="321.20" width="9.93" height="4.80" fill="#0022ff"/>
<rect x="1058.61" y="321.20" width="9.93" height="4.80" fill="#0008ff"/>
<rect x="1068.04" y="321.20" width="9.93" height="4.80" fill="#0008ff"/>
<rect x="1077.47" y="321.20" width="9.93" height="4.80" fill="#0008ff"/>
<rect x="1086.90" y="321.20" width="9.93" height="4.80" fill="#001aff"/>
<rect x="1096.33" y="321.20" width="9.93" height="4.80" fill="#0000f6"/>
<rect x="1105.76" y="321.20" width="9.93" height="4.80" fill="#0000dd"/>
<rect x="1115.19" y="321.20" width="2.41" height="4.80" fill="#0044ff"/>
<rect x="898.30" y="325.50" width="9.93" height="10.00" fill="#0000ee"/>
<rect x="907.73" y="325.50" width="9.93" height="10.00" fill="#0000ee"/>
<rect x="917.16" y="325.50" width="9.93" height="10.00" fill="#0000ee"/>
<rect x="926.59" y="325.50" width="9.93" height="10.00" fill="#0000ff"/>
<rect x="936.02" y="325.50" width="9.93" height="10.00" fill="#0000f6"/>
<rect x="945.45" y="325.50" width="9.93" height="10.00" fill="#0000f6"/>
<rect x="954.88" y="325.50" width="9.93" height="10.00" fill="#0000f6"/>
<rect x="964.31" y="325.50" width="9.93" height="10.00" fill="#0008ff"/>
<rect x="973.74" y="325.50" width="9.93" height="10.00" fill="#001aff"/>
<rect x="983.17" y="325.50" width="9.93" height="10.00" fill="#0011ff"/>
<rect x="992.60" y="325.50" width="9.93" height="10.00" fill="#0008ff"/>
<rect x="1002.03" y="325.50" width="9.93" height="10.00" fill="#002aff"/>
<rect x="1011.46" y="325.50" width="9.93" height="10.00" fill="#0000d4"/>
<rect x="1020.89" y="325.50" width="9.93" height="10.00" fill="#003cff"/>
<rect x="1030.32" y="325.50" width="9.93" height="10.00" fill="#0011ff"/>
<rect x="1039.75" y="325.50" width="9.93" height="10.00" fill="#0000dd"/>
<rect x="1049.18" y="325.50" width="9.93" height="10.00" fill="#0022ff"/>
<rect x="1058.61" y="325.50" width="9.93" height="10.00" fill="#0044ff"/>
<rect x="1068.04" y="325.50" width="9.93" height="10.00" fill="#004cff"/>
<rect x="1077.47" y="325.50" width="9.93" height="10.00" fill="#0000ff"/>
<rect x="1086.90" y="325.50" width="9.93" height="10.00" fill="#0055ff"/>
<rect x="1096.33" y="325.50" width="9.93" height="10.00" fill="#0000ee"/>
<rect x="1105.76" y="325.50" width="9.93" height="10.00" fill="#0088ff"/>
<rect x="1115.19" y="325.50" width="2.41" height="10.00" fill="#001aff"/>
<rect x="898.30" y="335.00" width="9.93" height="9.90" fill="#0000ee"/>
<rect x="907.73" y="335.00" width="9.93" height="9.90" fill="#0000ee"/>
<rect x="917.16" y="335.00" width="9.93" height="9.90" fill="#0000ee"/>
<rect x="926.59" y="335.00" width="9.93" height="9.90" fill="#0000d4"/>
<rect x="936.02" y="335.00" width="9.93" height="9.90" fill="#0000ee"/>
<rect x="945.45" y="335.00" width="9.93" height="9.90" fill="#0000f6"/>
<rect x="954.88" y="335.00" width="9.93" height="9.90" fill="#0000f6"/>
<rect x="964.31" y="335.00" width="9.93" height="9.90" fill="#0008ff"/>
<rect x="973.74" y="335.00" width="9.93" height="9.90" fill="#0000ee"/>
<rect x="983.17" y="335.00" width="9.93" height="9.90" fill="#0000ff"/>
<rect x="992.60" y="335.00" width="9.93" height="9.90" fill="#0008ff"/>
<rect x="1002.03" y="335.00" width="9.93" height="9.90" fill="#002aff"/>
<rect x="1011.46" y="335.00" width="9.93" height="9.90" fill="#0008ff"/>
<rect x="1020.89" y="335.00" width="9.93" height="9.90" fill="#0033ff"/>
<rect x="1030.32" y="335.00" width="9.93" height="9.90" fill="#0011ff"/>
<rect x="1039.75" y="335.00" width="9.93" height="9.90" fill="#0011ff"/>
<rect x="1049.18" y="335.00" width="9.93" height="9.90" fill="#0011ff"/>
<rect x="1058.61" y="335.00" width="9.93" height="9.90" fill="#0011ff"/>
<rect x="1068.04" y="335.00" width="9.93" height="9.90" fill="#003cff"/>
<rect x="1077.47" y="335.00" width="9.93" height="9.90" fill="#001aff"/>
<rect x="1086.90" y="335.00" width="9.93" height="9.90" fill="#0008ff"/>
<rect x="1096.33" y="335.00" width="9.93" height="9.90" fill="#0077ff"/>
<rect x="1105.76" y="335.00" width="9.93" height="9.90" fill="#0000bb"/>
<rect x="1115.19" y="335.00" width="2.41" height="9.90" fill="#001aff"/>
<rect x="898.30" y="344.40" width="9.93" height="10.00" fill="#0000ff"/>
<rect x="907.73" y="344.40" width="9.93" height="10.00" fill="#0000f6"/>
<rect x="917.16" y="344.40" width="9.93" height="10.00" fill="#0011ff"/>
<rect x="926.59" y="344.40" width="9.93" height="10.00" fill="#0000e5"/>
<rect x="936.02" y="344.40" width="9.93" height="10.00" fill="#0008ff"/>
<rect x="945.45" y="344.40" width="9.93" height="10.00" fill="#0011ff"/>
<rect x="954.88" y="344.40" width="9.93" height="10.00" fill="#0011ff"/>
<rect x="964.31" y="344.40" width="9.93" height="10.00" fill="#0011ff"/>
<rect x="973.74" y="344.40" width="9.93" height="10.00" fill="#0011ff"/>
<rect x="983.17" y="344.40" width="9.93" height="10.00" fill="#0000ff"/>
<rect x="992.60" y="344.40" width="9.93" height="10.00" fill="#0008ff"/>
<rect x="1002.03" y="344.40" width="9.93" height="10.00" fill="#002aff"/>
<rect x="1011.46" y="344.40" width="9.93" height="10.00" fill="#0011ff"/>
<rect x="1020.89" y="344.40" width="9.93" height="10.00" fill="#0033ff"/>
<rect x="1030.32" y="344.40" width="9.93" height="10.00" fill="#0011ff"/>
<rect x="1039.75" y="344.40" width="9.93" height="10.00" fill="#0011ff"/>
<rect x="1049.18" y="344.40" width="9.93" height="10.00" fill="#0066ff"/>
<rect x="1058.61" y="344.40" width="9.93" height="10.00" fill="#001aff"/>
<rect x="1068.04" y="344.40" width="9.93" height="10.00" fill="#0033ff"/>
<rect x="1077.47" y="344.40" width="9.93" height="10.00" fill="#001aff"/>
<rect x="1086.90" y="344.40" width="9.93" height="10.00" fill="#0000bb"/>
<rect x="1096.33" y="344.40" width="9.93" height="10.00" fill="#004cff"/>
<rect x="1105.76" y="344.40" width="9.93" height="10.00" fill="#0000c3"/>
<rect x="1115.19" y="344.40" width="2.41" height="10.00" fill="#001aff"/>
<rect x="898.30" y="353.90" width="9.93" height="9.90" fill="#0000ff"/>
<rect x="907.73" y="353.90" width="9.93" height="9.90" fill="#0011ff"/>
<rect x="917.16" y="353.90" width="9.93" height="9.90" fill="#0011ff"/>
<rect x="926.59" y="353.90" width="9.93" height="9.90" fill="#002aff"/>
<rect x="936.02" y="353.90" width="9.93" height="9.90" fill="#0033ff"/>
<rect x="945.45" y="353.90" width="9.93" height="9.90" fill="#003cff"/>
<rect x="954.88" y="353.90" width="9.93" height="9.90" fill="#002aff"/>
<rect x="964.31" y="353.90" width="9.93" height="9.90" fill="#0044ff"/>
<rect x="973.74" y="353.90" width="9.93" height="9.90" fill="#0055ff"/>
<rect x="983.17" y="353.90" width="9.93" height="9.90" fill="#004cff"/>
<rect x="992.60" y="353.90" width="9.93" height="9.90" fill="#004cff"/>
<rect x="1002.03" y="353.90" width="9.93" height="9.90" fill="#003cff"/>
<rect x="1011.46" y="353.90" width="9.93" height="9.90" fill="#0055ff"/>
<rect x="1020.89" y="353.90" width="9.93" height="9.90" fill="#002aff"/>
<rect x="1030.32" y="353.90" width="9.93" height="9.90" fill="#0044ff"/>
<rect x="1039.75" y="353.90" width="9.93" height="9.90" fill="#003cff"/>
<rect x="1049.18" y="353.90" width="9.93" height="9.90" fill="#0033ff"/>
<rect x="1058.61" y="353.90" width="9.93" height="9.90" fill="#001aff"/>
<rect x="1068.04" y="353.90" width="9.93" height="9.90" fill="#001aff"/>
<rect x="1077.47" y="353.90" width="9.93" height="9.90" fill="#0066ff"/>
<rect x="1086.90" y="353.90" width="9.93" height="9.90" fill="#0011ff"/>
<rect x="1096.33" y="353.90" width="9.93" height="9.90" fill="#002aff"/>
<rect x="1105.76" y="353.90" width="9.93" height="9.90" fill="#800000"/>
<rect x="1115.19" y="353.90" width="2.41" height="9.90" fill="#0044ff"/>
<rect x="898.30" y="363.30" width="9.93" height="9.90" fill="#0000f6"/>
<rect x="907.73" y="363.30" width="9.93" height="9.90" fill="#003cff"/>
<rect x="917.16" y="363.30" width="9.93" height="9.90" fill="#002aff"/>
<rect x="926.59" y="363.30" width="9.93" height="9.90" fill="#0000ff"/>
<rect x="936.02" y="363.30" width="9.93" height="9.90" fill="#0044ff"/>
<rect x="945.45" y="363.30" width="9.93" height="9.90" fill="#0044ff"/>
<rect x="954.88" y="363.30" width="9.93" height="9.90" fill="#005eff"/>
<rect x="964.31" y="363.30" width="9.93" height="9.90" fill="#0066ff"/>
<rect x="973.74" y="363.30" width="9.93" height="9.90" fill="#005eff"/>
<rect x="983.17" y="363.30" width="9.93" height="9.90" fill="#0066ff"/>
<rect x="992.60" y="363.30" width="9.93" height="9.90" fill="#006eff"/>
<rect x="1002.03" y="363.30" width="9.93" height="9.90" fill="#004cff"/>
<rect x="1011.46" y="363.30" width="9.93" height="9.90" fill="#005eff"/>
<rect x="1020.89" y="363.30" width="9.93" height="9.90" fill="#0044ff"/>
<rect x="1030.32" y="363.30" width="9.93" height="9.90" fill="#0044ff"/>
<rect x="1039.75" y="363.30" width="9.93" height="9.90" fill="#002aff"/>
<rect x="1049.18" y="363.30" width="9.93" height="9.90" fill="#003cff"/>
<rect x="1058.61" y="363.30" width="9.93" height="9.90" fill="#0011ff"/>
<rect x="1068.04" y="363.30" width="9.93" height="9.90" fill="#0000dd"/>
<rect x="1077.47" y="363.30" width="9.93" height="9.90" fill="#0044ff"/>
<rect x="1086.90" y="363.30" width="9.93" height="9.90" fill="#0011ff"/>
<rect x="1096.33" y="363.30" width="9.93" height="9.90" fill="#004cff"/>
<rect x="1105.76" y="363.30" width="9.93" height="9.90" fill="#800000"/>
<rect x="1115.19" y="363.30" width="2.41" height="9.90" fill="#55ffaa"/>
<rect x="898.30" y="372.70" width="9.93" height="10.00" fill="#0011ff"/>
<rect x="907.73" y="372.70" width="9.93" height="10.00" fill="#002aff"/>
<rect x="917.16" y="372.70" width="9.93" height="10.00" fill="#0033ff"/>
<rect x="926.59" y="372.70" width="9.93" height="10.00" fill="#0066ff"/>
<rect x="936.02" y="372.70" width="9.93" height="10.00" fill="#006eff"/>
<rect x="945.45" y="372.70" width="9.93" height="10.00" fill="#0099ff"/>
<rect x="954.88" y="372.70" width="9.93" height="10.00" fill="#00b2ff"/>
<rect x="964.31" y="372.70" width="9.93" height="10.00" fill="#00aaff"/>
<rect x="973.74" y="372.70" width="9.93" height="10.00" fill="#0099ff"/>
<rect x="983.17" y="372.70" width="9.93" height="10.00" fill="#0080ff"/>
<rect x="992.60" y="372.70" width="9.93" height="10.00" fill="#0090ff"/>
<rect x="1002.03" y="372.70" width="9.93" height="10.00" fill="#0080ff"/>
<rect x="1011.46" y="372.70" width="9.93" height="10.00" fill="#0055ff"/>
<rect x="1020.89" y="372.70" width="9.93" height="10.00" fill="#002aff"/>
<rect x="1030.32" y="372.70" width="9.93" height="10.00" fill="#002aff"/>
<rect x="1039.75" y="372.70" width="9.93" height="10.00" fill="#002aff"/>
<rect x="1049.18" y="372.70" width="9.93" height="10.00" fill="#0055ff"/>
<rect x="1058.61" y="372.70" width="9.93" height="10.00" fill="#0055ff"/>
<rect x="1068.04" y="372.70" width="9.93" height="10.00" fill="#0011ff"/>
<rect x="1077.47" y="372.70" width="9.93" height="10.00" fill="#0000f6"/>
<rect x="1086.90" y="372.70" width="9.93" height="10.00" fill="#003cff"/>
<rect x="1096.33" y="372.70" width="9.93" height="10.00" fill="#0000f6"/>
<rect x="1105.76" y="372.70" width="9.93" height="10.00" fill="#006eff"/>
<rect x="1115.19" y="372.70" width="2.41" height="10.00" fill="#0044ff"/>
<rect x="898.30" y="382.20" width="9.93" height="9.90" fill="#001aff"/>
<rect x="907.73" y="382.20" width="9.93" height="9.90" fill="#005eff"/>
<rect x="917.16" y="382.20" width="9.93" height="9.90" fill="#005eff"/>
<rect x="926.59" y="382.20" width="9.93" height="9.90" fill="#0077ff"/>
<rect x="936.02" y="382.20" width="9.93" height="9.90" fill="#00a2ff"/>
<rect x="945.45" y="382.20" width="9.93" height="9.90" fill="#00f7ff"/>
<rect x="954.88" y="382.20" width="9.93" height="9.90" fill="#00ffff"/>
<rect x="964.31" y="382.20" width="9.93" height="9.90" fill="#00eeff"/>
<rect x="973.74" y="382.20" width="9.93" height="9.90" fill="#00ccff"/>
<rect x="983.17" y="382.20" width="9.93" height="9.90" fill="#00c3ff"/>
<rect x="992.60" y="382.20" width="9.93" height="9.90" fill="#0099ff"/>
<rect x="1002.03" y="382.20" width="9.93" height="9.90" fill="#0099ff"/>
<rect x="1011.46" y="382.20" width="9.93" height="9.90" fill="#0090ff"/>
<rect x="1020.89" y="382.20" width="9.93" height="9.90" fill="#006eff"/>
<rect x="1030.32" y="382.20" width="9.93" height="9.90" fill="#0055ff"/>
<rect x="1039.75" y="382.20" width="9.93" height="9.90" fill="#0055ff"/>
<rect x="1049.18" y="382.20" width="9.93" height="9.90" fill="#0055ff"/>
<rect x="1058.61" y="382.20" width="9.93" height="9.90" fill="#0011ff"/>
<rect x="1068.04" y="382.20" width="9.93" height="9.90" fill="#0011ff"/>
<rect x="1077.47" y="382.20" width="9.93" height="9.90" fill="#001aff"/>
<rect x="1086.90" y="382.20" width="9.93" height="9.90" fill="#005eff"/>
<rect x="1096.33" y="382.20" width="9.93" height="9.90" fill="#004cff"/>
<rect x="1105.76" y="382.20" width="9.93" height="9.90" fill="#0011ff"/>
<rect x="1115.19" y="382.20" width="2.41" height="9.90" fill="#0080ff"/>
<rect x="898.30" y="391.60" width="9.93" height="9.90" fill="#0044ff"/>
<rect x="907.73" y="391.60" width="9.93" height="9.90" fill="#006eff"/>
<rect x="917.16" y="391.60" width="9.93" height="9.90" fill="#0099ff"/>
<rect x="926.59" y="391.60" width="9.93" height="9.90" fill="#00d4ff"/>
<rect x="936.02" y="391.60" width="9.93" height="9.90" fill="#3cffc3"/>
<rect x="945.45" y="391.60" width="9.93" height="9.90" fill="#6eff90"/>
<rect x="954.88" y="391.60" width="9.93" height="9.90" fill="#77ff88"/>
<rect x="964.31" y="391.60" width="9.93" height="9.90" fill="#6eff90"/>
<rect x="973.74" y="391.60" width="9.93" height="9.90" fill="#4dffb2"/>
<rect x="983.17" y="391.60" width="9.93" height="9.90" fill="#00ffff"/>
<rect x="992.60" y="391.60" width="9.93" height="9.90" fill="#00d4ff"/>
<rect x="1002.03" y="391.60" width="9.93" height="9.90" fill="#00a2ff"/>
<rect x="1011.46" y="391.60" width="9.93" height="9.90" fill="#00a2ff"/>
<rect x="1020.89" y="391.60" width="9.93" height="9.90" fill="#00aaff"/>
<rect x="1030.32" y="391.60" width="9.93" height="9.90" fill="#004cff"/>
<rect x="1039.75" y="391.60" width="9.93" height="9.90" fill="#004cff"/>
<rect x="1049.18" y="391.60" width="9.93" height="9.90" fill="#0066ff"/>
<rect x="1058.61" y="391.60" width="9.93" height="9.90" fill="#0000e5"/>
<rect x="1068.04" y="391.60" width="9.93" height="9.90" fill="#0011ff"/>
<rect x="1077.47" y="391.60" width="9.93" height="9.90" fill="#0011ff"/>
<rect x="1086.90" y="391.60" width="9.93" height="9.90" fill="#0022ff"/>
<rect x="1096.33" y="391.60" width="9.93" height="9.90" fill="#0044ff"/>
<rect x="1105.76" y="391.60" width="9.93" height="9.90" fill="#0044ff"/>
<rect x="1115.19" y="391.60" width="2.41" height="9.90" fill="#0044ff"/>
<rect x="898.30" y="401.00" width="9.93" height="10.00" fill="#0044ff"/>
<rect x="907.73" y="401.00" width="9.93" height="10.00" fill="#0088ff"/>
<rect x="917.16" y="401.00" width="9.93" height="10.00" fill="#00ddff"/>
<rect x="926.59" y="401.00" width="9.93" height="10.00" fill="#55ffaa"/>
<rect x="936.02" y="401.00" width="9.93" height="10.00" fill="#6eff90"/>
<rect x="945.45" y="401.00" width="9.93" height="10.00" fill="#e5ff1a"/>
<rect x="954.88" y="401.00" width="9.93" height="10.00" fill="#eeff11"/>
<rect x="964.31" y="401.00" width="9.93" height="10.00" fill="#d5ff2a"/>
<rect x="973.74" y="401.00" width="9.93" height="10.00" fill="#91ff6e"/>
<rect x="983.17" y="401.00" width="9.93" height="10.00" fill="#88ff77"/>
<rect x="992.60" y="401.00" width="9.93" height="10.00" fill="#08fff7"/>
<rect x="1002.03" y="401.00" width="9.93" height="10.00" fill="#00ffff"/>
<rect x="1011.46" y="401.00" width="9.93" height="10.00" fill="#00ccff"/>
<rect x="1020.89" y="401.00" width="9.93" height="10.00" fill="#00b2ff"/>
<rect x="1030.32" y="401.00" width="9.93" height="10.00" fill="#004cff"/>
<rect x="1039.75" y="401.00" width="9.93" height="10.00" fill="#0080ff"/>
<rect x="1049.18" y="401.00" width="9.93" height="10.00" fill="#0044ff"/>
<rect x="1058.61" y="401.00" width="9.93" height="10.00" fill="#0011ff"/>
<rect x="1068.04" y="401.00" width="9.93" height="10.00" fill="#001aff"/>
<rect x="1077.47" y="401.00" width="9.93" height="10.00" fill="#0008ff"/>
<rect x="1086.90" y="401.00" width="9.93" height="10.00" fill="#005eff"/>
<rect x="1096.33" y="401.00" width="9.93" height="10.00" fill="#003cff"/>
<rect x="1105.76" y="401.00" width="9.93" height="10.00" fill="#0055ff"/>
<rect x="1115.19" y="401.00" width="2.41" height="10.00" fill="#002aff"/>
<rect x="898.30" y="410.50" width="9.93" height="9.90" fill="#0080ff"/>
<rect x="907.73" y="410.50" width="9.93" height="9.90" fill="#00aaff"/>
<rect x="917.16" y="410.50" width="9.93" height="9.90" fill="#08fff7"/>
<rect x="926.59" y="410.50" width="9.93" height="9.90" fill="#77ff88"/>
<rect x="936.02" y="410.50" width="9.93" height="9.90" fill="#e5ff1a"/>
<rect x="945.45" y="410.50" width="9.93" height="9.90" fill="#ff9000"/>
<rect x="954.88" y="410.50" width="9.93" height="9.90" fill="#ff6600"/>
<rect x="964.31" y="410.50" width="9.93" height="9.90" fill="#ff6f00"/>
<rect x="973.74" y="410.50" width="9.93" height="9.90" fill="#ffe500"/>
<rect x="983.17" y="410.50" width="9.93" height="9.90" fill="#eeff11"/>
<rect x="992.60" y="410.50" width="9.93" height="9.90" fill="#80ff80"/>
<rect x="1002.03" y="410.50" width="9.93" height="9.90" fill="#77ff88"/>
<rect x="1011.46" y="410.50" width="9.93" height="9.90" fill="#00eeff"/>
<rect x="1020.89" y="410.50" width="9.93" height="9.90" fill="#00b2ff"/>
<rect x="1030.32" y="410.50" width="9.93" height="9.90" fill="#0055ff"/>
<rect x="1039.75" y="410.50" width="9.93" height="9.90" fill="#0080ff"/>
<rect x="1049.18" y="410.50" width="9.93" height="9.90" fill="#0033ff"/>
<rect x="1058.61" y="410.50" width="9.93" height="9.90" fill="#001aff"/>
<rect x="1068.04" y="410.50" width="9.93" height="9.90" fill="#001aff"/>
<rect x="1077.47" y="410.50" width="9.93" height="9.90" fill="#0011ff"/>
<rect x="1086.90" y="410.50" width="9.93" height="9.90" fill="#001aff"/>
<rect x="1096.33" y="410.50" width="9.93" height="9.90" fill="#005eff"/>
<rect x="1105.76" y="410.50" width="9.93" height="9.90" fill="#002aff"/>
<rect x="1115.19" y="410.50" width="2.41" height="9.90" fill="#002aff"/>
<rect x="898.30" y="419.90" width="9.93" height="9.90" fill="#0090ff"/>
<rect x="907.73" y="419.90" width="9.93" height="9.90" fill="#00d4ff"/>
<rect x="917.16" y="419.90" width="9.93" height="9.90" fill="#5dffa2"/>
<rect x="926.59" y="419.90" width="9.93" height="9.90" fill="#eeff11"/>
<rect x="936.02" y="419.90" width="9.93" height="9.90" fill="#ff9000"/>
<rect x="945.45" y="419.90" width="9.93" height="9.90" fill="#ee0000"/>
<rect x="954.88" y="419.90" width="9.93" height="9.90" fill="#800000"/>
<rect x="964.31" y="419.90" width="9.93" height="9.90" fill="#900000"/>
<rect x="973.74" y="419.90" width="9.93" height="9.90" fill="#f70000"/>
<rect x="983.17" y="419.90" width="9.93" height="9.90" fill="#fff700"/>
<rect x="992.60" y="419.90" width="9.93" height="9.90" fill="#91ff6e"/>
<rect x="1002.03" y="419.90" width="9.93" height="9.90" fill="#80ff80"/>
<rect x="1011.46" y="419.90" width="9.93" height="9.90" fill="#00ddff"/>
<rect x="1020.89" y="419.90" width="9.93" height="9.90" fill="#00f7ff"/>
<rect x="1030.32" y="419.90" width="9.93" height="9.90" fill="#0066ff"/>
<rect x="1039.75" y="419.90" width="9.93" height="9.90" fill="#0080ff"/>
<rect x="1049.18" y="419.90" width="9.93" height="9.90" fill="#004cff"/>
<rect x="1058.61" y="419.90" width="9.93" height="9.90" fill="#002aff"/>
<rect x="1068.04" y="419.90" width="9.93" height="9.90" fill="#0008ff"/>
<rect x="1077.47" y="419.90" width="9.93" height="9.90" fill="#0011ff"/>
<rect x="1086.90" y="419.90" width="9.93" height="9.90" fill="#0011ff"/>
<rect x="1096.33" y="419.90" width="9.93" height="9.90" fill="#001aff"/>
<rect x="1105.76" y="419.90" width="9.93" height="9.90" fill="#003cff"/>
<rect x="1115.19" y="419.90" width="2.41" height="9.90" fill="#002aff"/>
<rect x="898.30" y="429.30" width="9.93" height="9.80" fill="#0099ff"/>
<rect x="907.73" y="429.30" width="9.93" height="9.80" fill="#00f7ff"/>
<rect x="917.16" y="429.30" width="9.93" height="9.80" fill="#55ffaa"/>
<rect x="926.59" y="429.30" width="9.93" height="9.80" fill="#ffe500"/>
<rect x="936.02" y="429.30" width="9.93" height="9.80" fill="#ff8000"/>
<rect x="945.45" y="429.30" width="9.93" height="9.80" fill="#bb0000"/>
<rect x="954.88" y="429.30" width="9.93" height="9.80" fill="#800000"/>
<rect x="964.31" y="429.30" width="9.93" height="9.80" fill="#990000"/>
<rect x="973.74" y="429.30" width="9.93" height="9.80" fill="#ff0000"/>
<rect x="983.17" y="429.30" width="9.93" height="9.80" fill="#ffaa00"/>
<rect x="992.60" y="429.30" width="9.93" height="9.80" fill="#d5ff2a"/>
<rect x="1002.03" y="429.30" width="9.93" height="9.80" fill="#99ff66"/>
<rect x="1011.46" y="429.30" width="9.93" height="9.80" fill="#55ffaa"/>
<rect x="1020.89" y="429.30" width="9.93" height="9.80" fill="#11ffee"/>
<rect x="1030.32" y="429.30" width="9.93" height="9.80" fill="#0077ff"/>
<rect x="1039.75" y="429.30" width="9.93" height="9.80" fill="#00a2ff"/>
<rect x="1049.18" y="429.30" width="9.93" height="9.80" fill="#004cff"/>
<rect x="1058.61" y="429.30" width="9.93" height="9.80" fill="#0044ff"/>
<rect x="1068.04" y="429.30" width="9.93" height="9.80" fill="#004cff"/>
<rect x="1077.47" y="429.30" width="9.93" height="9.80" fill="#001aff"/>
<rect x="1086.90" y="429.30" width="9.93" height="9.80" fill="#0055ff"/>
<rect x="1096.33" y="429.30" width="9.93" height="9.80" fill="#006eff"/>
<rect x="1105.76" y="429.30" width="9.93" height="9.80" fill="#003cff"/>
<rect x="1115.19" y="429.30" width="2.41" height="9.80" fill="#002aff"/>
<rect x="898.30" y="438.60" width="9.93" height="9.90" fill="#00b2ff"/>
<rect x="907.73" y="438.60" width="9.93" height="9.90" fill="#00f7ff"/>
<rect x="917.16" y="438.60" width="9.93" height="9.90" fill="#77ff88"/>
<rect x="926.59" y="438.60" width="9.93" height="9.90" fill="#ffe500"/>
<rect x="936.02" y="438.60" width="9.93" height="9.90" fill="#ff7700"/>
<rect x="945.45" y="438.60" width="9.93" height="9.90" fill="#f70000"/>
<rect x="954.88" y="438.60" width="9.93" height="9.90" fill="#990000"/>
<rect x="964.31" y="438.60" width="9.93" height="9.90" fill="#aa0000"/>
<rect x="973.74" y="438.60" width="9.93" height="9.90" fill="#ff0800"/>
<rect x="983.17" y="438.60" width="9.93" height="9.90" fill="#ff8000"/>
<rect x="992.60" y="438.60" width="9.93" height="9.90" fill="#c3ff3c"/>
<rect x="1002.03" y="438.60" width="9.93" height="9.90" fill="#91ff6e"/>
<rect x="1011.46" y="438.60" width="9.93" height="9.90" fill="#4dffb2"/>
<rect x="1020.89" y="438.60" width="9.93" height="9.90" fill="#00ffff"/>
<rect x="1030.32" y="438.60" width="9.93" height="9.90" fill="#00a2ff"/>
<rect x="1039.75" y="438.60" width="9.93" height="9.90" fill="#0055ff"/>
<rect x="1049.18" y="438.60" width="9.93" height="9.90" fill="#0044ff"/>
<rect x="1058.61" y="438.60" width="9.93" height="9.90" fill="#0080ff"/>
<rect x="1068.04" y="438.60" width="9.93" height="9.90" fill="#004cff"/>
<rect x="1077.47" y="438.60" width="9.93" height="9.90" fill="#001aff"/>
<rect x="1086.90" y="438.60" width="9.93" height="9.90" fill="#0055ff"/>
<rect x="1096.33" y="438.60" width="9.93" height="9.90" fill="#004cff"/>
<rect x="1105.76" y="438.60" width="9.93" height="9.90" fill="#0080ff"/>
<rect x="1115.19" y="438.60" width="2.41" height="9.90" fill="#0044ff"/>
<rect x="898.30" y="448.00" width="9.93" height="10.00" fill="#006eff"/>
<rect x="907.73" y="448.00" width="9.93" height="10.00" fill="#00c3ff"/>
<rect x="917.16" y="448.00" width="9.93" height="10.00" fill="#4dffb2"/>
<rect x="926.59" y="448.00" width="9.93" height="10.00" fill="#99ff66"/>
<rect x="936.02" y="448.00" width="9.93" height="10.00" fill="#ffd500"/>
<rect x="945.45" y="448.00" width="9.93" height="10.00" fill="#ff2a00"/>
<rect x="954.88" y="448.00" width="9.93" height="10.00" fill="#ff0800"/>
<rect x="964.31" y="448.00" width="9.93" height="10.00" fill="#ff0000"/>
<rect x="973.74" y="448.00" width="9.93" height="10.00" fill="#ff4d00"/>
<rect x="983.17" y="448.00" width="9.93" height="10.00" fill="#ffff00"/>
<rect x="992.60" y="448.00" width="9.93" height="10.00" fill="#a2ff5e"/>
<rect x="1002.03" y="448.00" width="9.93" height="10.00" fill="#2bffd4"/>
<rect x="1011.46" y="448.00" width="9.93" height="10.00" fill="#00eeff"/>
<rect x="1020.89" y="448.00" width="9.93" height="10.00" fill="#0099ff"/>
<rect x="1030.32" y="448.00" width="9.93" height="10.00" fill="#0099ff"/>
<rect x="1039.75" y="448.00" width="9.93" height="10.00" fill="#006eff"/>
<rect x="1049.18" y="448.00" width="9.93" height="10.00" fill="#00aaff"/>
<rect x="1058.61" y="448.00" width="9.93" height="10.00" fill="#00b2ff"/>
<rect x="1068.04" y="448.00" width="9.93" height="10.00" fill="#0055ff"/>
<rect x="1077.47" y="448.00" width="9.93" height="10.00" fill="#0055ff"/>
<rect x="1086.90" y="448.00" width="9.93" height="10.00" fill="#0011ff"/>
<rect x="1096.33" y="448.00" width="9.93" height="10.00" fill="#0011ff"/>
<rect x="1105.76" y="448.00" width="9.93" height="10.00" fill="#0077ff"/>
<rect x="1115.19" y="448.00" width="2.41" height="10.00" fill="#0044ff"/>
<rect x="898.30" y="457.50" width="9.93" height="9.80" fill="#0066ff"/>
<rect x="907.73" y="457.50" width="9.93" height="9.80" fill="#00ccff"/>
<rect x="917.16" y="457.50" width="9.93" height="9.80" fill="#33ffcc"/>
<rect x="926.59" y="457.50" width="9.93" height="9.80" fill="#66ff99"/>
<rect x="936.02" y="457.50" width="9.93" height="9.80" fill="#eeff11"/>
<rect x="945.45" y="457.50" width="9.93" height="9.80" fill="#ffaa00"/>
<rect x="954.88" y="457.50" width="9.93" height="9.80" fill="#ff9000"/>
<rect x="964.31" y="457.50" width="9.93" height="9.80" fill="#ff8000"/>
<rect x="973.74" y="457.50" width="9.93" height="9.80" fill="#ffd500"/>
<rect x="983.17" y="457.50" width="9.93" height="9.80" fill="#e5ff1a"/>
<rect x="992.60" y="457.50" width="9.93" height="9.80" fill="#a2ff5e"/>
<rect x="1002.03" y="457.50" width="9.93" height="9.80" fill="#2bffd4"/>
<rect x="1011.46" y="457.50" width="9.93" height="9.80" fill="#00eeff"/>
<rect x="1020.89" y="457.50" width="9.93" height="9.80" fill="#0088ff"/>
<rect x="1030.32" y="457.50" width="9.93" height="9.80" fill="#006eff"/>
<rect x="1039.75" y="457.50" width="9.93" height="9.80" fill="#0055ff"/>
<rect x="1049.18" y="457.50" width="9.93" height="9.80" fill="#0066ff"/>
<rect x="1058.61" y="457.50" width="9.93" height="9.80" fill="#0066ff"/>
<rect x="1068.04" y="457.50" width="9.93" height="9.80" fill="#0044ff"/>
<rect x="1077.47" y="457.50" width="9.93" height="9.80" fill="#001aff"/>
<rect x="1086.90" y="457.50" width="9.93" height="9.80" fill="#001aff"/>
<rect x="1096.33" y="457.50" width="9.93" height="9.80" fill="#0044ff"/>
<rect x="1105.76" y="457.50" width="9.93" height="9.80" fill="#003cff"/>
<rect x="1115.19" y="457.50" width="2.41" height="9.80" fill="#0033ff"/>
<rect x="898.30" y="466.80" width="9.93" height="10.10" fill="#005eff"/>
<rect x="907.73" y="466.80" width="9.93" height="10.10" fill="#00ccff"/>
<rect x="917.16" y="466.80" width="9.93" height="10.10" fill="#2bffd4"/>
<rect x="926.59" y="466.80" width="9.93" height="10.10" fill="#5dffa2"/>
<rect x="936.02" y="466.80" width="9.93" height="10.10" fill="#aaff55"/>
<rect x="945.45" y="466.80" width="9.93" height="10.10" fill="#b2ff4d"/>
<rect x="954.88" y="466.80" width="9.93" height="10.10" fill="#eeff11"/>
<rect x="964.31" y="466.80" width="9.93" height="10.10" fill="#e5ff1a"/>
<rect x="973.74" y="466.80" width="9.93" height="10.10" fill="#e5ff1a"/>
<rect x="983.17" y="466.80" width="9.93" height="10.10" fill="#a2ff5e"/>
<rect x="992.60" y="466.80" width="9.93" height="10.10" fill="#55ffaa"/>
<rect x="1002.03" y="466.80" width="9.93" height="10.10" fill="#22ffdd"/>
<rect x="1011.46" y="466.80" width="9.93" height="10.10" fill="#00e6ff"/>
<rect x="1020.89" y="466.80" width="9.93" height="10.10" fill="#0088ff"/>
<rect x="1030.32" y="466.80" width="9.93" height="10.10" fill="#006eff"/>
<rect x="1039.75" y="466.80" width="9.93" height="10.10" fill="#0022ff"/>
<rect x="1049.18" y="466.80" width="9.93" height="10.10" fill="#0022ff"/>
<rect x="1058.61" y="466.80" width="9.93" height="10.10" fill="#004cff"/>
<rect x="1068.04" y="466.80" width="9.93" height="10.10" fill="#004cff"/>
<rect x="1077.47" y="466.80" width="9.93" height="10.10" fill="#0044ff"/>
<rect x="1086.90" y="466.80" width="9.93" height="10.10" fill="#0055ff"/>
<rect x="1096.33" y="466.80" width="9.93" height="10.10" fill="#0055ff"/>
<rect x="1105.76" y="466.80" width="9.93" height="10.10" fill="#003cff"/>
<rect x="1115.19" y="466.80" width="2.41" height="10.10" fill="#0033ff"/>
<rect x="898.30" y="476.40" width="9.93" height="9.80" fill="#003cff"/>
<rect x="907.73" y="476.40" width="9.93" height="9.80" fill="#0077ff"/>
<rect x="917.16" y="476.40" width="9.93" height="9.80" fill="#00ccff"/>
<rect x="926.59" y="476.40" width="9.93" height="9.80" fill="#08fff7"/>
<rect x="936.02" y="476.40" width="9.93" height="9.80" fill="#4dffb2"/>
<rect x="945.45" y="476.40" width="9.93" height="9.80" fill="#5dffa2"/>
<rect x="954.88" y="476.40" width="9.93" height="9.80" fill="#6eff90"/>
<rect x="964.31" y="476.40" width="9.93" height="9.80" fill="#5dffa2"/>
<rect x="973.74" y="476.40" width="9.93" height="9.80" fill="#66ff99"/>
<rect x="983.17" y="476.40" width="9.93" height="9.80" fill="#3cffc3"/>
<rect x="992.60" y="476.40" width="9.93" height="9.80" fill="#11ffee"/>
<rect x="1002.03" y="476.40" width="9.93" height="9.80" fill="#00c3ff"/>
<rect x="1011.46" y="476.40" width="9.93" height="9.80" fill="#00ffff"/>
<rect x="1020.89" y="476.40" width="9.93" height="9.80" fill="#0090ff"/>
<rect x="1030.32" y="476.40" width="9.93" height="9.80" fill="#005eff"/>
<rect x="1039.75" y="476.40" width="9.93" height="9.80" fill="#0077ff"/>
<rect x="1049.18" y="476.40" width="9.93" height="9.80" fill="#003cff"/>
<rect x="1058.61" y="476.40" width="9.93" height="9.80" fill="#003cff"/>
<rect x="1068.04" y="476.40" width="9.93" height="9.80" fill="#003cff"/>
<rect x="1077.47" y="476.40" width="9.93" height="9.80" fill="#0066ff"/>
<rect x="1086.90" y="476.40" width="9.93" height="9.80" fill="#0022ff"/>
<rect x="1096.33" y="476.40" width="9.93" height="9.80" fill="#002aff"/>
<rect x="1105.76" y="476.40" width="9.93" height="9.80" fill="#0022ff"/>
<rect x="1115.19" y="476.40" width="2.41" height="9.80" fill="#0090ff"/>
<rect x="898.30" y="485.70" width="9.93" height="10.00" fill="#002aff"/>
<rect x="907.73" y="485.70" width="9.93" height="10.00" fill="#005eff"/>
<rect x="917.16" y="485.70" width="9.93" height="10.00" fill="#006eff"/>
<rect x="926.59" y="485.70" width="9.93" height="10.00" fill="#00ccff"/>
<rect x="936.02" y="485.70" width="9.93" height="10.00" fill="#00eeff"/>
<rect x="945.45" y="485.70" width="9.93" height="10.00" fill="#2bffd4"/>
<rect x="954.88" y="485.70" width="9.93" height="10.00" fill="#08fff7"/>
<rect x="964.31" y="485.70" width="9.93" height="10.00" fill="#00ffff"/>
<rect x="973.74" y="485.70" width="9.93" height="10.00" fill="#00c3ff"/>
<rect x="983.17" y="485.70" width="9.93" height="10.00" fill="#00f7ff"/>
<rect x="992.60" y="485.70" width="9.93" height="10.00" fill="#00f7ff"/>
<rect x="1002.03" y="485.70" width="9.93" height="10.00" fill="#00aaff"/>
<rect x="1011.46" y="485.70" width="9.93" height="10.00" fill="#00aaff"/>
<rect x="1020.89" y="485.70" width="9.93" height="10.00" fill="#006eff"/>
<rect x="1030.32" y="485.70" width="9.93" height="10.00" fill="#005eff"/>
<rect x="1039.75" y="485.70" width="9.93" height="10.00" fill="#006eff"/>
<rect x="1049.18" y="485.70" width="9.93" height="10.00" fill="#0008ff"/>
<rect x="1058.61" y="485.70" width="9.93" height="10.00" fill="#0008ff"/>
<rect x="1068.04" y="485.70" width="9.93" height="10.00" fill="#005eff"/>
<rect x="1077.47" y="485.70" width="9.93" height="10.00" fill="#0000ff"/>
<rect x="1086.90" y="485.70" width="9.93" height="10.00" fill="#0080ff"/>
<rect x="1096.33" y="485.70" width="9.93" height="10.00" fill="#0044ff"/>
<rect x="1105.76" y="485.70" width="9.93" height="10.00" fill="#003cff"/>
<rect x="1115.19" y="485.70" width="2.41" height="10.00" fill="#0080ff"/>
<rect x="898.30" y="495.20" width="9.93" height="9.90" fill="#001aff"/>
<rect x="907.73" y="495.20" width="9.93" height="9.90" fill="#002aff"/>
<rect x="917.16" y="495.20" width="9.93" height="9.90" fill="#005eff"/>
<rect x="926.59" y="495.20" width="9.93" height="9.90" fill="#0088ff"/>
<rect x="936.02" y="495.20" width="9.93" height="9.90" fill="#00aaff"/>
<rect x="945.45" y="495.20" width="9.93" height="9.90" fill="#00aaff"/>
<rect x="954.88" y="495.20" width="9.93" height="9.90" fill="#00a2ff"/>
<rect x="964.31" y="495.20" width="9.93" height="9.90" fill="#0090ff"/>
<rect x="973.74" y="495.20" width="9.93" height="9.90" fill="#0077ff"/>
<rect x="983.17" y="495.20" width="9.93" height="9.90" fill="#00aaff"/>
<rect x="992.60" y="495.20" width="9.93" height="9.90" fill="#00aaff"/>
<rect x="1002.03" y="495.20" width="9.93" height="9.90" fill="#006eff"/>
<rect x="1011.46" y="495.20" width="9.93" height="9.90" fill="#0077ff"/>
<rect x="1020.89" y="495.20" width="9.93" height="9.90" fill="#004cff"/>
<rect x="1030.32" y="495.20" width="9.93" height="9.90" fill="#0077ff"/>
<rect x="1039.75" y="495.20" width="9.93" height="9.90" fill="#003cff"/>
<rect x="1049.18" y="495.20" width="9.93" height="9.90" fill="#001aff"/>
<rect x="1058.61" y="495.20" width="9.93" height="9.90" fill="#0008ff"/>
<rect x="1068.04" y="495.20" width="9.93" height="9.90" fill="#0055ff"/>
<rect x="1077.47" y="495.20" width="9.93" height="9.90" fill="#0044ff"/>
<rect x="1086.90" y="495.20" width="9.93" height="9.90" fill="#0000ee"/>
<rect x="1096.33" y="495.20" width="9.93" height="9.90" fill="#0000e5"/>
<rect x="1105.76" y="495.20" width="9.93" height="9.90" fill="#002aff"/>
<rect x="1115.19" y="495.20" width="2.41" height="9.90" fill="#002aff"/>
<rect x="898.30" y="504.60" width="9.93" height="10.00" fill="#0000ff"/>
<rect x="907.73" y="504.60" width="9.93" height="10.00" fill="#0008ff"/>
<rect x="917.16" y="504.60" width="9.93" height="10.00" fill="#002aff"/>
<rect x="926.59" y="504.60" width="9.93" height="10.00" fill="#004cff"/>
<rect x="936.02" y="504.60" width="9.93" height="10.00" fill="#006eff"/>
<rect x="945.45" y="504.60" width="9.93" height="10.00" fill="#0077ff"/>
<rect x="954.88" y="504.60" width="9.93" height="10.00" fill="#0080ff"/>
<rect x="964.31" y="504.60" width="9.93" height="10.00" fill="#005eff"/>
<rect x="973.74" y="504.60" width="9.93" height="10.00" fill="#0066ff"/>
<rect x="983.17" y="504.60" width="9.93" height="10.00" fill="#0090ff"/>
<rect x="992.60" y="504.60" width="9.93" height="10.00" fill="#0090ff"/>
<rect x="1002.03" y="504.60" width="9.93" height="10.00" fill="#005eff"/>
<rect x="1011.46" y="504.60" width="9.93" height="10.00" fill="#0080ff"/>
<rect x="1020.89" y="504.60" width="9.93" height="10.00" fill="#0055ff"/>
<rect x="1030.32" y="504.60" width="9.93" height="10.00" fill="#0008ff"/>
<rect x="1039.75" y="504.60" width="9.93" height="10.00" fill="#0044ff"/>
<rect x="1049.18" y="504.60" width="9.93" height="10.00" fill="#0088ff"/>
<rect x="1058.61" y="504.60" width="9.93" height="10.00" fill="#0008ff"/>
<rect x="1068.04" y="504.60" width="9.93" height="10.00" fill="#002aff"/>
<rect x="1077.47" y="504.60" width="9.93" height="10.00" fill="#001aff"/>
<rect x="1086.90" y="504.60" width="9.93" height="10.00" fill="#0000aa"/>
<rect x="1096.33" y="504.60" width="9.93" height="10.00" fill="#002aff"/>
<rect x="1105.76" y="504.60" width="9.93" height="10.00" fill="#002aff"/>
<rect x="1115.19" y="504.60" width="2.41" height="10.00" fill="#002aff"/>
<rect x="898.30" y="514.10" width="9.93" height="9.90" fill="#0000f6"/>
<rect x="907.73" y="514.10" width="9.93" height="9.90" fill="#0000ff"/>
<rect x="917.16" y="514.10" width="9.93" height="9.90" fill="#0011ff"/>
<rect x="926.59" y="514.10" width="9.93" height="9.90" fill="#002aff"/>
<rect x="936.02" y="514.10" width="9.93" height="9.90" fill="#002aff"/>
<rect x="945.45" y="514.10" width="9.93" height="9.90" fill="#0044ff"/>
<rect x="954.88" y="514.10" width="9.93" height="9.90" fill="#004cff"/>
<rect x="964.31" y="514.10" width="9.93" height="9.90" fill="#0066ff"/>
<rect x="973.74" y="514.10" width="9.93" height="9.90" fill="#005eff"/>
<rect x="983.17" y="514.10" width="9.93" height="9.90" fill="#001aff"/>
<rect x="992.60" y="514.10" width="9.93" height="9.90" fill="#0077ff"/>
<rect x="1002.03" y="514.10" width="9.93" height="9.90" fill="#005eff"/>
<rect x="1011.46" y="514.10" width="9.93" height="9.90" fill="#0008ff"/>
<rect x="1020.89" y="514.10" width="9.93" height="9.90" fill="#0066ff"/>
<rect x="1030.32" y="514.10" width="9.93" height="9.90" fill="#0011ff"/>
<rect x="1039.75" y="514.10" width="9.93" height="9.90" fill="#002aff"/>
<rect x="1049.18" y="514.10" width="9.93" height="9.90" fill="#0080ff"/>
<rect x="1058.61" y="514.10" width="9.93" height="9.90" fill="#0000ff"/>
<rect x="1068.04" y="514.10" width="9.93" height="9.90" fill="#0000ff"/>
<rect x="1077.47" y="514.10" width="9.93" height="9.90" fill="#0000c3"/>
<rect x="1086.90" y="514.10" width="9.93" height="9.90" fill="#0011ff"/>
<rect x="1096.33" y="514.10" width="9.93" height="9.90" fill="#0000ff"/>
<rect x="1105.76" y="514.10" width="9.93" height="9.90" fill="#0099ff"/>
<rect x="1115.19" y="514.10" width="2.41" height="9.90" fill="#0044ff"/>
<rect x="898.30" y="523.50" width="9.93" height="9.80" fill="#0000e5"/>
<rect x="907.73" y="523.50" width="9.93" height="9.80" fill="#0000ee"/>
<rect x="917.16" y="523.50" width="9.93" height="9.80" fill="#0000ff"/>
<rect x="926.59" y="523.50" width="9.93" height="9.80" fill="#0000ff"/>
<rect x="936.02" y="523.50" width="9.93" height="9.80" fill="#0011ff"/>
<rect x="945.45" y="523.50" width="9.93" height="9.80" fill="#002aff"/>
<rect x="954.88" y="523.50" width="9.93" height="9.80" fill="#003cff"/>
<rect x="964.31" y="523.50" width="9.93" height="9.80" fill="#0066ff"/>
<rect x="973.74" y="523.50" width="9.93" height="9.80" fill="#005eff"/>
<rect x="983.17" y="523.50" width="9.93" height="9.80" fill="#0000ee"/>
<rect x="992.60" y="523.50" width="9.93" height="9.80" fill="#0080ff"/>
<rect x="1002.03" y="523.50" width="9.93" height="9.80" fill="#0055ff"/>
<rect x="1011.46" y="523.50" width="9.93" height="9.80" fill="#003cff"/>
<rect x="1020.89" y="523.50" width="9.93" height="9.80" fill="#0055ff"/>
<rect x="1030.32" y="523.50" width="9.93" height="9.80" fill="#0000e5"/>
<rect x="1039.75" y="523.50" width="9.93" height="9.80" fill="#0044ff"/>
<rect x="1049.18" y="523.50" width="9.93" height="9.80" fill="#0080ff"/>
<rect x="1058.61" y="523.50" width="9.93" height="9.80" fill="#0011ff"/>
<rect x="1068.04" y="523.50" width="9.93" height="9.80" fill="#0000b3"/>
<rect x="1077.47" y="523.50" width="9.93" height="9.80" fill="#0077ff"/>
<rect x="1086.90" y="523.50" width="9.93" height="9.80" fill="#0000d4"/>
<rect x="1096.33" y="523.50" width="9.93" height="9.80" fill="#0011ff"/>
<rect x="1105.76" y="523.50" width="9.93" height="9.80" fill="#00aaff"/>
<rect x="1115.19" y="523.50" width="2.41" height="9.80" fill="#0044ff"/>
<rect x="898.30" y="532.80" width="9.93" height="7.60" fill="#0000e5"/>
<rect x="907.73" y="532.80" width="9.93" height="7.60" fill="#0000e5"/>
<rect x="917.16" y="532.80" width="9.93" height="7.60" fill="#0000ee"/>
<rect x="926.59" y="532.80" width="9.93" height="7.60" fill="#0000ee"/>
<rect x="936.02" y="532.80" width="9.93" height="7.60" fill="#0000f6"/>
<rect x="945.45" y="532.80" width="9.93" height="7.60" fill="#002aff"/>
<rect x="954.88" y="532.80" width="9.93" height="7.60" fill="#0000ff"/>
<rect x="964.31" y="532.80" width="9.93" height="7.60" fill="#002aff"/>
<rect x="973.74" y="532.80" width="9.93" height="7.60" fill="#002aff"/>
<rect x="983.17" y="532.80" width="9.93" height="7.60" fill="#0000dd"/>
<rect x="992.60" y="532.80" width="9.93" height="7.60" fill="#0077ff"/>
<rect x="1002.03" y="532.80" width="9.93" height="7.60" fill="#0011ff"/>
<rect x="1011.46" y="532.80" width="9.93" height="7.60" fill="#0008ff"/>
<rect x="1020.89" y="532.80" width="9.93" height="7.60" fill="#0008ff"/>
<rect x="1030.32" y="532.80" width="9.93" height="7.60" fill="#0000f6"/>
<rect x="1039.75" y="532.80" width="9.93" height="7.60" fill="#0000bb"/>
<rect x="1049.18" y="532.80" width="9.93" height="7.60" fill="#0000ff"/>
<rect x="1058.61" y="532.80" width="9.93" height="7.60" fill="#0008ff"/>
<rect x="1068.04" y="532.80" width="9.93" height="7.60" fill="#0011ff"/>
<rect x="1077.47" y="532.80" width="9.93" height="7.60" fill="#0000c3"/>
<rect x="1086.90" y="532.80" width="9.93" height="7.60" fill="#0011ff"/>
<rect x="1096.33" y="532.80" width="9.93" height="7.60" fill="#0008ff"/>
<rect x="1105.76" y="532.80" width="9.93" height="7.60" fill="#002aff"/>
<rect x="1115.19" y="532.80" width="2.41" height="7.60" fill="#0044ff"/>
</g>
<line x1="969.2" y1="321.2" x2="969.2" y2="540.4" stroke="#fff" stroke-width="2.6" stroke-dasharray="7.4 3.7" stroke-dashoffset="3.5"/>
<line x1="898.4" y1="427.8" x2="1117.6" y2="427.8" stroke="#fff" stroke-width="2.6" stroke-dasharray="7.4 3.7" stroke-dashoffset="3.5"/>
<line x1="664.0" y1="248.0" x2="697.0" y2="248.0" stroke="#5b9bd5" stroke-width="2.2"/>
<polygon points="658,248.2 673.2,240.4 673.2,256.0" fill="#5b9bd5"/>
<line x1="819.0" y1="248.0" x2="870.0" y2="248.0" stroke="#5b9bd5" stroke-width="2.2"/>
<polygon points="875.2,248.2 860.0,240.4 860.0,256.0" fill="#5b9bd5"/>
<text x="717.7" y="256.5" font-family='"Liberation Sans", sans-serif' font-size="26.5" fill="#111" textLength="80.1" lengthAdjust="spacingAndGlyphs" stroke="#111" stroke-width="0.35">16 mm</text>
<text x="670.0" y="312.0" font-family='"Liberation Sans", sans-serif' font-size="26.5" fill="#111" textLength="191.4" lengthAdjust="spacingAndGlyphs" stroke="#111" stroke-width="0.35">0.8 x 0.8 x 2 mm</text>
<text x="915.5" y="309.6" font-family='"Liberation Sans", sans-serif' font-size="26.5" fill="#111" textLength="191.3" lengthAdjust="spacingAndGlyphs" stroke="#111" stroke-width="0.35">0.7 x 0.7 x 2 mm</text>
<linearGradient id="jetg" x1="0" y1="1" x2="0" y2="0">
<stop offset="0.000" stop-color="#000080"/>
<stop offset="0.025" stop-color="#000099"/>
<stop offset="0.050" stop-color="#0000b3"/>
<stop offset="0.075" stop-color="#0000cc"/>
<stop offset="0.100" stop-color="#0000e6"/>
<stop offset="0.125" stop-color="#0000ff"/>
<stop offset="0.150" stop-color="#001aff"/>
<stop offset="0.175" stop-color="#0033ff"/>
<stop offset="0.200" stop-color="#004dff"/>
<stop offset="0.225" stop-color="#0066ff"/>
<stop offset="0.250" stop-color="#0080ff"/>
<stop offset="0.275" stop-color="#0099ff"/>
<stop offset="0.300" stop-color="#00b2ff"/>
<stop offset="0.325" stop-color="#00ccff"/>
<stop offset="0.350" stop-color="#00e5ff"/>
<stop offset="0.375" stop-color="#00ffff"/>
<stop offset="0.400" stop-color="#1affe5"/>
<stop offset="0.425" stop-color="#33ffcc"/>
<stop offset="0.450" stop-color="#4dffb2"/>
<stop offset="0.475" stop-color="#66ff99"/>
<stop offset="0.500" stop-color="#80ff80"/>
<stop offset="0.525" stop-color="#99ff66"/>
<stop offset="0.550" stop-color="#b3ff4c"/>
<stop offset="0.575" stop-color="#ccff33"/>
<stop offset="0.600" stop-color="#e5ff1a"/>
<stop offset="0.625" stop-color="#ffff00"/>
<stop offset="0.650" stop-color="#ffe500"/>
<stop offset="0.675" stop-color="#ffcc00"/>
<stop offset="0.700" stop-color="#ffb300"/>
<stop offset="0.725" stop-color="#ff9900"/>
<stop offset="0.750" stop-color="#ff8000"/>
<stop offset="0.775" stop-color="#ff6600"/>
<stop offset="0.800" stop-color="#ff4c00"/>
<stop offset="0.825" stop-color="#ff3300"/>
<stop offset="0.850" stop-color="#ff1a00"/>
<stop offset="0.875" stop-color="#ff0000"/>
<stop offset="0.900" stop-color="#e50000"/>
<stop offset="0.925" stop-color="#cc0000"/>
<stop offset="0.950" stop-color="#b30000"/>
<stop offset="0.975" stop-color="#990000"/>
<stop offset="1.000" stop-color="#800000"/>
</linearGradient>
<rect x="1128.6" y="322.3" width="17.4" height="216.2" fill="url(#jetg)"/>
<g clip-path="url(#clipCB)">
<text x="1152.6" y="329.5" font-family='"DejaVu Sans", "Liberation Sans", sans-serif' font-size="19.4" fill="#111" font-weight="bold" textLength="24.3" lengthAdjust="spacingAndGlyphs">10</text>
<text x="1152.6" y="365.5" font-family='"DejaVu Sans", "Liberation Sans", sans-serif' font-size="19.4" fill="#111" font-weight="bold" textLength="12.2" lengthAdjust="spacingAndGlyphs">8</text>
<text x="1152.6" y="401.5" font-family='"DejaVu Sans", "Liberation Sans", sans-serif' font-size="19.4" fill="#111" font-weight="bold" textLength="12.2" lengthAdjust="spacingAndGlyphs">6</text>
<text x="1152.6" y="437.5" font-family='"DejaVu Sans", "Liberation Sans", sans-serif' font-size="19.4" fill="#111" font-weight="bold" textLength="12.2" lengthAdjust="spacingAndGlyphs">4</text>
<text x="1152.6" y="473.5" font-family='"DejaVu Sans", "Liberation Sans", sans-serif' font-size="19.4" fill="#111" font-weight="bold" textLength="12.2" lengthAdjust="spacingAndGlyphs">2</text>
<text x="1152.6" y="509.5" font-family='"DejaVu Sans", "Liberation Sans", sans-serif' font-size="19.4" fill="#111" font-weight="bold" textLength="12.2" lengthAdjust="spacingAndGlyphs">0</text>
<text x="1152.6" y="545.5" font-family='"DejaVu Sans", "Liberation Sans", sans-serif' font-size="19.4" fill="#111" font-weight="bold" textLength="19.4" lengthAdjust="spacingAndGlyphs">-2</text>
</g>
<text x="1175.8" y="329.4" font-family='"DejaVu Sans", "Liberation Sans", sans-serif' font-size="18.5" fill="#111" font-weight="bold" textLength="18.6" lengthAdjust="spacingAndGlyphs">°C</text>
<text x="1246.4" y="41.6" font-family='"Liberation Sans", sans-serif' font-size="42.3" fill="#000" font-weight="bold" textLength="29.0" lengthAdjust="spacingAndGlyphs" stroke="#000" stroke-width="0.9">C</text>
<text x="1372.3" y="21.2" font-family='"Liberation Sans", sans-serif' font-size="23.5" fill="#111" font-weight="bold" textLength="348.2" lengthAdjust="spacingAndGlyphs">Maximal temperature increase :</text>
<text x="1372.3" y="52.3" font-family='"Liberation Sans", sans-serif' font-size="24" fill="#41b38c" textLength="147.0" lengthAdjust="spacingAndGlyphs" stroke="#41b38c" stroke-width="0.55">10.6 ± 0.04 °C</text>
<text x="1372.3" y="83.9" font-family='"Liberation Sans", sans-serif' font-size="24" fill="#fb8b5f" textLength="126.3" lengthAdjust="spacingAndGlyphs" stroke="#fb8b5f" stroke-width="0.5">10 ± 0.03 °C</text>
<text x="1372.3" y="115.9" font-family='"Liberation Sans", sans-serif' font-size="24" fill="#ff0000" font-weight="bold" textLength="134.2" lengthAdjust="spacingAndGlyphs">7.9 ± 0.04 °C</text>
<text x="1372.3" y="147.5" font-family='"Liberation Sans", sans-serif' font-size="24" fill="#e583c6" textLength="134.2" lengthAdjust="spacingAndGlyphs" stroke="#e583c6" stroke-width="0.5">7.8 ± 0.02 °C</text>
<g clip-path="url(#clipC)">
<polyline points="1345.5,534.0 1347.5,523.6 1349.5,514.6 1351.5,504.4 1353.5,495.2 1355.5,485.2 1357.3,476.3 1359.0,465.8 1360.8,456.5 1362.6,448.5 1364.4,443.0 1366.2,435.2 1367.9,428.8 1369.7,423.1 1371.5,418.6 1373.2,411.7 1375.0,406.9 1376.7,400.4 1378.6,394.7 1380.5,389.5 1382.4,383.5 1384.2,378.1 1386.0,374.6 1387.7,370.6 1389.5,365.1 1391.6,360.6 1393.7,356.5 1395.8,351.7 1397.9,346.7 1399.7,343.6 1401.5,343.1 1403.2,340.6 1405.0,338.3 1407.1,332.2 1409.2,327.0 1412.1,318.3 1414.0,310.1 1415.8,305.0 1417.7,297.1 1419.5,297.0 1421.2,297.6 1423.0,298.0 1424.8,297.1 1426.6,296.9 1428.3,296.7 1430.1,294.7 1431.9,294.3 1433.7,291.5 1435.4,287.1 1437.2,284.7 1438.9,280.1 1441.0,282.5 1443.0,283.0 1445.2,278.5 1447.4,275.9 1449.5,280.7 1451.6,287.2 1453.8,295.0 1455.9,304.1 1457.8,295.8 1459.6,285.1 1461.5,275.9 1463.2,274.2 1464.9,271.5 1466.6,270.0 1468.3,267.7 1470.0,266.0 1471.9,263.3 1473.8,261.5 1475.7,259.2 1477.5,257.6 1479.4,254.7 1481.3,251.9 1483.2,253.9 1485.1,254.6 1487.0,254.7 1488.7,253.6 1490.4,250.6 1492.1,247.1 1493.8,246.5 1495.5,243.4 1497.4,242.9 1499.3,241.1 1501.2,238.6 1503.0,237.3 1504.9,234.5 1506.8,233.5 1508.7,235.7 1510.5,236.5 1512.4,237.7 1514.3,236.6 1516.2,235.5 1518.1,236.7 1519.9,236.5 1521.8,233.7 1523.7,234.1 1525.5,233.7 1527.2,231.6 1529.0,229.8 1530.8,229.1 1532.6,229.1 1534.4,228.2 1536.1,225.0 1537.9,225.0 1539.8,224.5 1541.7,222.3 1543.5,223.2 1545.4,221.4 1547.3,222.0 1549.2,221.4 1551.0,219.5 1552.9,219.9 1554.8,217.9 1556.5,218.3 1558.2,218.6 1559.9,220.7 1561.6,220.2 1563.3,222.2 1565.4,216.5 1567.5,212.3 1569.4,214.9 1571.3,218.2 1573.2,220.8 1575.1,216.7 1576.9,213.1 1578.8,210.9 1580.9,213.8 1583.0,215.0 1584.9,214.1 1586.8,215.2 1588.7,213.7 1590.4,215.2 1592.1,214.5 1593.8,215.3 1595.5,216.0 1597.2,216.5 1599.0,213.3 1600.8,209.7 1602.5,206.1 1604.3,202.4 1606.2,205.5 1608.0,209.1 1609.9,210.9 1611.7,210.6 1613.5,210.0 1615.2,210.4 1617.0,209.5 1618.7,207.2 1620.4,205.6 1622.1,205.5 1623.8,202.8 1625.5,201.0 1627.4,202.5 1629.2,202.6 1631.1,205.2 1632.8,203.9 1634.5,203.2 1636.2,200.7 1637.9,201.0 1639.6,199.6 1641.4,200.5 1643.2,199.7 1645.0,201.7 1646.9,201.9 1648.7,203.0 1650.5,202.8 1652.3,203.8 1654.0,201.9 1655.7,199.5 1657.4,195.4 1659.1,193.1 1660.8,191.7 1662.6,192.5 1664.3,193.7 1666.1,192.4 1667.9,193.4 1669.7,192.1 1671.4,191.3 1673.2,189.5 1674.9,188.8 1676.7,188.9 1678.5,189.2 1680.2,189.8 1682.0,190.5 1683.7,190.0 1685.4,188.6 1687.1,188.0 1688.8,188.3 1690.5,186.9 1692.2,186.7 1693.9,189.0 1695.6,190.3 1697.3,190.3 1699.0,191.7 1701.1,189.8 1703.2,190.0 1705.3,187.5 1707.4,186.9 1709.2,187.0 1711.0,188.5 1712.7,190.1 1714.5,190.5 1716.3,188.6 1718.0,188.3 1719.8,187.4 1721.6,186.9 1723.5,187.4 1725.4,186.1 1727.2,186.8 1729.1,184.8 1731.0,184.9 1732.9,185.3 1734.7,185.6 1736.6,184.2 1738.5,184.0 1740.2,184.2 1741.9,184.8 1743.6,186.7 1745.3,186.7 1747.0,188.3 1748.9,186.7 1750.8,184.4 1752.7,181.2 1754.6,179.8 1756.5,179.4 1758.3,180.1 1760.2,179.1 1762.1,178.9 1764.0,177.5 1766.1,178.1 1768.2,178.5 1770.3,179.8 1772.4,181.2 1774.1,181.9 1775.8,180.7 1777.5,180.8 1779.2,181.0 1780.9,181.2 1782.8,182.9 1784.7,184.8 1786.6,186.9 1788.5,187.1 1790.4,184.4 1792.2,183.3 1794.1,184.7 1796.0,183.7 1797.9,182.0 1799.6,182.6 1801.3,180.7 1803.0,181.4 1804.7,180.8 1806.4,179.2 1808.3,180.1 1810.1,183.0 1812.0,184.0 1814.0,185.4 1816.0,185.6 1817.9,185.8 1819.9,185.8 1821.9,186.9 1824.0,182.7 1826.1,179.2 1827.8,180.9 1829.5,184.0 1831.3,200.7 1833.2,219.4 1835.6,216.1 1838.0,212.3 1839.8,222.4 1841.7,233.5 1843.8,254.0 1845.9,273.1 1847.8,279.5 1849.7,289.1 1851.6,295.7 1853.4,300.7 1855.2,305.9 1856.9,310.4 1858.7,314.0" fill="none" stroke="#48b691" stroke-width="3.4" stroke-linejoin="round"/>
<polyline points="1346.5,534.0 1348.4,526.4 1350.3,519.1 1352.2,512.8 1354.1,505.3 1356.0,498.1 1357.9,491.9 1359.8,485.2 1361.7,476.8 1363.5,467.1 1365.4,457.0 1367.3,450.1 1369.2,441.3 1371.1,434.4 1373.2,438.7 1375.3,442.8 1377.4,433.8 1379.6,425.9 1381.7,432.9 1383.8,441.4 1385.7,430.6 1387.6,421.0 1389.5,411.8 1391.4,406.7 1393.2,400.3 1395.1,393.4 1397.0,396.5 1398.9,398.8 1400.8,400.4 1402.5,392.3 1404.3,385.1 1406.0,378.5 1407.8,370.8 1409.5,368.2 1411.2,365.4 1412.9,362.4 1414.6,357.3 1416.3,355.2 1418.2,354.1 1420.1,352.8 1422.0,351.0 1424.1,346.4 1426.2,341.0 1428.3,337.1 1430.4,332.6 1432.2,328.8 1434.0,328.0 1435.7,325.0 1437.5,321.3 1439.4,323.6 1441.2,325.1 1443.1,328.7 1444.9,330.0 1446.8,332.0 1448.5,328.9 1450.2,324.9 1451.9,320.1 1453.6,315.9 1455.3,312.3 1457.0,307.9 1458.7,304.1 1460.6,302.8 1462.5,302.7 1464.4,302.7 1466.5,301.0 1468.6,296.7 1470.7,294.2 1472.8,292.8 1474.5,290.6 1476.2,287.2 1477.9,285.3 1479.6,282.6 1481.3,280.1 1483.2,280.2 1485.1,282.3 1486.9,280.8 1488.8,281.8 1490.7,281.8 1492.6,283.0 1494.4,284.7 1496.2,285.3 1497.9,286.9 1499.7,288.6 1501.5,286.7 1503.2,283.2 1505.0,281.3 1506.8,278.7 1508.9,278.3 1511.0,274.9 1513.1,273.4 1515.2,273.1 1516.9,270.2 1518.6,269.2 1520.3,266.6 1522.0,263.4 1523.7,261.8 1525.4,261.1 1527.1,260.4 1528.8,260.8 1530.5,259.5 1532.2,260.3 1533.9,259.4 1535.6,258.5 1537.3,257.2 1539.0,255.3 1540.7,253.3 1542.4,253.8 1544.1,251.0 1545.8,251.1 1547.5,252.1 1549.2,250.4 1551.3,251.2 1553.4,250.5 1555.5,251.9 1557.6,251.0 1559.3,249.2 1561.0,247.6 1562.7,244.3 1564.4,241.9 1566.1,240.6 1567.8,241.0 1569.5,240.8 1571.2,242.0 1572.9,243.9 1574.6,243.4 1576.4,242.5 1578.1,241.1 1579.9,240.7 1581.7,240.5 1583.4,241.4 1585.2,239.8 1586.9,239.1 1588.7,239.1 1590.5,235.7 1592.2,235.3 1594.0,231.5 1595.8,229.2 1597.5,230.2 1599.2,231.5 1600.9,233.2 1602.6,235.2 1604.3,237.7 1606.0,235.3 1607.8,231.2 1609.5,228.1 1611.3,226.4 1613.2,226.4 1615.1,225.8 1616.9,227.6 1618.8,225.5 1620.7,226.5 1622.6,226.4 1624.8,229.2 1626.9,230.7 1628.9,228.8 1630.9,228.5 1632.8,225.5 1634.8,223.3 1636.8,222.2 1638.8,221.1 1640.8,219.4 1642.7,219.4 1644.7,218.2 1646.7,217.9 1648.7,221.1 1650.7,223.2 1652.6,224.7 1654.6,225.8 1656.6,229.2 1658.4,226.7 1660.1,224.7 1661.9,222.7 1663.7,220.8 1665.4,220.4 1667.2,216.7 1668.9,214.6 1670.7,213.7 1672.4,214.7 1674.1,213.9 1675.8,214.9 1677.5,213.5 1679.2,213.7 1681.2,213.8 1683.2,212.4 1685.1,211.9 1687.1,210.9 1689.1,209.5 1691.1,211.2 1693.1,211.9 1695.0,213.8 1697.0,217.1 1699.0,217.9 1700.9,217.2 1702.8,215.6 1704.7,212.6 1706.5,211.7 1708.4,210.4 1710.3,208.0 1712.2,208.8 1714.0,209.8 1715.9,209.5 1717.8,212.4 1719.7,215.5 1721.6,217.9 1723.7,215.5 1725.8,211.7 1727.9,210.4 1730.0,206.6 1731.9,208.2 1733.8,206.5 1735.7,208.0 1737.6,208.0 1739.5,206.8 1741.3,204.9 1743.2,202.2 1745.1,203.1 1747.0,201.0 1748.9,201.0 1750.8,204.0 1752.7,204.2 1754.5,203.7 1756.4,204.9 1758.3,206.6 1760.0,206.4 1761.7,205.6 1763.4,205.5 1765.1,205.4 1766.8,203.8 1768.7,203.6 1770.6,203.5 1772.4,206.2 1774.3,204.5 1776.2,207.0 1778.1,206.6 1779.8,203.4 1781.5,202.8 1783.2,200.5 1784.9,198.5 1786.6,195.3 1788.5,197.8 1790.3,200.9 1792.2,202.4 1793.9,200.8 1795.6,201.1 1797.3,199.5 1799.0,200.0 1800.7,198.2 1802.4,199.7 1804.1,199.8 1805.8,200.8 1807.5,200.4 1809.2,202.4 1810.9,199.3 1812.6,198.7 1814.3,196.4 1816.0,195.4 1817.7,192.5 1819.8,196.3 1821.9,199.6 1823.8,207.2 1825.7,216.2 1827.6,225.0 1829.5,236.0 1831.3,245.8 1833.2,256.1 1835.0,260.6 1836.8,268.2 1838.5,273.8 1840.3,278.7 1843.1,288.6 1845.9,276.0 1847.5,290.0 1850.2,301.3 1851.9,304.8 1853.6,310.4 1855.3,314.6 1857.0,320.1 1858.7,323.9" fill="none" stroke="#ff7a4d" stroke-width="3.4" stroke-linejoin="round"/>
<ellipse cx="1845.3" cy="283.5" rx="3.4" ry="6.5" fill="#ff7a4d"/>
<polyline points="1346.5,534.0 1348.2,529.6 1350.0,525.1 1351.8,520.4 1353.5,516.1 1355.2,510.5 1357.0,506.2 1358.8,498.1 1360.5,494.8 1362.2,491.7 1364.0,485.2 1365.8,481.5 1367.5,478.2 1369.3,471.1 1371.1,468.3 1372.9,463.9 1374.7,458.9 1376.4,455.7 1378.2,451.3 1380.2,448.5 1382.1,443.3 1384.1,441.0 1386.0,438.1 1388.0,435.8 1389.9,434.5 1391.8,431.1 1393.7,426.1 1395.6,425.5 1397.5,420.3 1399.4,418.8 1401.3,416.4 1403.2,411.8 1405.1,408.6 1406.9,408.9 1408.8,403.7 1410.7,401.9 1412.6,399.5 1414.5,400.8 1416.3,399.0 1418.2,395.5 1420.1,396.5 1422.0,393.4 1423.9,392.0 1425.8,390.9 1427.6,387.6 1429.5,388.7 1431.4,386.3 1433.3,385.7 1435.1,383.9 1437.0,380.1 1438.9,379.3 1440.6,376.0 1442.3,372.4 1444.0,369.5 1445.7,366.4 1447.4,365.1 1449.1,364.7 1450.8,366.0 1452.5,364.2 1454.2,366.9 1455.9,366.5 1457.6,363.4 1459.3,360.7 1461.0,360.0 1462.7,356.3 1464.4,353.8 1466.3,353.6 1468.1,354.7 1470.0,355.2 1471.7,354.5 1473.4,350.8 1475.1,352.7 1476.8,347.9 1478.5,348.2 1480.2,348.8 1481.9,348.8 1483.6,345.6 1485.3,348.0 1487.0,346.7 1488.9,349.5 1490.7,353.6 1492.6,356.6 1494.3,351.5 1496.0,348.2 1497.7,345.3 1499.4,344.7 1501.1,339.7 1502.8,337.7 1504.5,338.9 1506.2,338.7 1507.9,337.9 1509.6,335.4 1511.5,335.3 1513.3,335.8 1515.2,336.8 1517.1,335.5 1519.0,335.0 1520.8,331.2 1522.7,332.1 1524.6,330.9 1526.5,328.4 1528.4,328.7 1530.3,324.8 1532.2,327.2 1534.1,323.1 1536.0,323.1 1537.9,322.7 1539.8,322.2 1541.7,322.3 1543.6,319.3 1545.4,320.5 1547.3,318.2 1549.2,317.1 1551.0,316.8 1552.7,317.1 1554.5,317.0 1556.2,317.0 1558.0,317.6 1559.8,319.9 1561.5,321.3 1563.3,319.9 1565.2,317.6 1567.1,316.1 1568.9,318.4 1570.8,315.7 1572.7,314.1 1574.6,313.4 1576.5,312.2 1578.3,313.2 1580.2,312.6 1581.9,313.0 1583.7,310.9 1585.4,310.0 1587.2,308.0 1588.9,310.3 1590.7,306.3 1592.4,307.2 1594.2,307.7 1595.9,304.4 1597.7,305.8 1599.4,305.8 1601.2,303.9 1602.9,302.7 1604.7,303.5 1606.5,300.8 1608.3,301.7 1610.1,300.4 1611.9,302.7 1613.6,300.4 1615.4,300.7 1617.2,302.5 1619.0,301.7 1620.8,301.9 1622.6,299.9 1624.4,299.4 1626.1,299.2 1627.9,299.7 1629.7,298.4 1631.5,297.4 1633.2,297.5 1635.0,296.2 1636.8,297.1 1638.5,296.2 1640.3,298.0 1642.0,297.4 1643.8,295.8 1645.5,294.9 1647.2,293.9 1649.0,292.6 1650.7,292.8 1652.4,294.2 1654.2,294.0 1655.9,291.8 1657.7,292.9 1659.4,291.4 1661.2,292.3 1663.0,292.0 1664.8,291.8 1666.6,292.0 1668.4,290.5 1670.2,291.7 1672.0,290.1 1673.8,290.8 1675.6,291.7 1677.4,291.4 1679.2,290.6 1680.9,289.5 1682.7,291.5 1684.4,290.0 1686.2,289.4 1687.9,287.0 1689.6,288.6 1691.4,287.1 1693.1,288.3 1694.8,287.1 1696.6,288.0 1698.3,287.1 1700.1,287.2 1701.8,285.8 1703.7,285.6 1705.6,286.9 1707.4,287.6 1709.3,288.2 1711.2,286.8 1713.1,288.9 1714.9,289.3 1716.8,289.0 1718.7,288.6 1720.6,290.3 1722.5,290.2 1724.3,288.7 1726.2,288.7 1728.1,287.4 1730.0,288.6 1731.9,288.7 1733.8,288.0 1735.7,285.3 1737.6,285.0 1739.5,284.0 1741.4,282.1 1743.3,282.8 1745.2,280.7 1747.1,282.8 1748.9,282.0 1750.8,282.2 1752.7,281.5 1754.6,281.6 1756.5,282.7 1758.3,283.6 1760.2,283.5 1762.1,284.2 1764.0,283.8 1765.9,281.7 1767.8,281.8 1769.6,282.4 1771.5,282.7 1773.4,280.7 1775.3,282.0 1777.1,281.4 1779.0,278.9 1780.9,280.1 1782.8,279.3 1784.7,277.7 1786.6,276.4 1788.4,276.0 1790.3,275.9 1792.2,275.9 1794.0,274.6 1795.8,274.4 1797.5,273.7 1799.3,275.1 1801.1,274.6 1802.9,275.3 1804.6,275.0 1806.4,274.5 1808.3,275.9 1810.1,280.6 1812.0,281.5 1813.7,277.4 1815.4,276.6 1817.1,273.9 1818.8,272.1 1820.5,270.2 1822.2,270.0 1823.9,273.7 1825.6,273.2 1827.3,273.1 1829.0,275.9 1830.7,280.3 1832.4,282.4 1834.1,287.9 1835.8,291.2 1837.5,295.7 1839.6,301.6 1841.7,308.6 1843.8,313.8 1845.9,318.3 1847.7,322.2 1849.5,327.9 1851.2,331.5 1853.0,335.2 1854.9,339.1 1856.8,342.6 1858.7,348.2" fill="none" stroke="#ff0000" stroke-width="3.8" stroke-linejoin="round"/>
<polyline points="1347.5,534.0 1349.3,530.0 1351.0,525.6 1352.8,520.7 1354.6,515.9 1356.3,511.0 1358.1,507.6 1359.8,502.9 1361.6,498.9 1363.4,493.9 1365.1,490.1 1366.9,485.2 1368.9,480.3 1370.8,476.6 1372.8,472.0 1374.7,467.0 1376.7,462.6 1378.5,459.8 1380.2,457.2 1382.0,453.6 1383.8,451.4 1385.6,449.0 1387.4,445.3 1389.1,443.3 1390.9,440.0 1392.7,438.2 1394.4,436.3 1396.2,433.4 1398.0,430.9 1399.7,429.9 1401.5,427.8 1403.2,425.1 1405.0,423.1 1406.8,419.4 1408.5,416.6 1410.3,414.3 1412.0,410.7 1413.8,408.8 1415.6,405.2 1417.3,401.5 1419.1,399.0 1421.0,397.6 1422.9,395.5 1424.8,394.7 1426.6,393.1 1428.5,390.8 1430.4,389.1 1432.2,390.8 1434.0,392.3 1435.7,393.9 1437.5,394.8 1439.2,392.7 1440.9,388.4 1442.6,386.1 1444.3,383.7 1446.0,380.7 1448.4,389.5 1450.8,399.0 1452.7,392.8 1454.5,386.3 1456.5,389.9 1458.5,395.4 1460.4,399.1 1462.4,402.6 1464.4,407.5 1466.3,400.7 1468.1,393.1 1470.0,386.3 1471.8,381.6 1473.5,377.8 1475.3,373.0 1477.1,369.4 1479.1,367.2 1481.1,366.6 1483.0,364.6 1485.0,361.8 1487.0,360.9 1489.2,363.2 1491.3,363.9 1493.5,366.5 1495.9,361.3 1498.3,356.6 1500.2,355.7 1502.1,353.7 1503.9,351.6 1505.8,350.1 1507.7,348.6 1509.6,346.6 1511.4,346.4 1513.3,343.4 1515.2,342.5 1517.1,341.7 1519.0,341.5 1520.8,340.2 1522.7,340.5 1524.6,338.6 1526.5,338.3 1528.3,340.8 1530.0,342.4 1531.8,343.8 1533.6,345.3 1535.5,346.4 1537.3,346.1 1539.2,346.7 1541.0,344.8 1542.8,342.3 1544.5,339.4 1546.3,336.9 1548.0,335.2 1549.7,333.8 1551.4,331.7 1553.1,329.4 1554.8,328.4 1556.6,327.8 1558.4,326.0 1560.2,325.3 1562.1,324.8 1563.9,322.8 1565.7,321.5 1567.5,321.3 1569.4,323.1 1571.3,326.2 1573.2,328.4 1575.0,327.3 1576.8,326.3 1578.6,325.8 1580.5,325.7 1582.3,323.8 1584.1,323.2 1585.9,322.5 1587.6,322.5 1589.4,321.4 1591.1,320.2 1592.9,319.9 1594.6,319.3 1596.3,318.1 1598.1,317.8 1599.8,317.1 1601.5,317.2 1603.3,315.8 1605.0,315.7 1606.8,315.6 1608.5,314.2 1610.2,314.3 1612.0,312.9 1613.7,312.7 1615.5,311.7 1617.2,311.3 1618.9,310.9 1620.7,310.8 1622.4,310.5 1624.1,308.9 1625.9,307.9 1627.6,308.0 1629.4,306.8 1631.1,307.0 1632.9,305.9 1634.7,306.7 1636.5,305.2 1638.3,305.8 1640.1,304.8 1641.9,305.4 1643.7,304.8 1645.5,303.2 1647.3,303.0 1649.1,303.8 1650.9,302.7 1652.8,301.9 1654.7,300.7 1656.6,300.4 1658.4,299.5 1660.3,298.0 1662.2,297.1 1663.9,297.2 1665.6,296.7 1667.3,297.3 1669.0,297.1 1670.7,298.0 1672.4,298.1 1674.1,297.5 1675.8,298.4 1677.5,297.7 1679.2,298.5 1681.0,297.3 1682.7,297.7 1684.5,296.8 1686.2,297.0 1688.0,296.1 1689.8,295.6 1691.5,294.2 1693.3,294.8 1695.1,293.1 1696.8,293.4 1698.6,293.3 1700.4,292.8 1702.1,292.2 1703.9,291.0 1705.6,290.8 1707.4,290.0 1709.2,290.2 1710.9,288.9 1712.7,289.9 1714.5,289.6 1716.2,288.6 1718.0,288.9 1719.8,288.1 1721.6,287.5 1723.3,288.0 1725.1,286.7 1726.9,287.6 1728.6,287.6 1730.4,286.2 1732.2,287.0 1733.9,285.4 1735.7,285.8 1737.5,286.2 1739.2,285.1 1741.0,286.0 1742.8,285.0 1744.5,285.6 1746.3,284.0 1748.1,283.9 1749.8,284.9 1751.6,284.4 1753.4,284.0 1755.2,283.1 1756.9,283.1 1758.7,283.2 1760.5,282.5 1762.2,283.9 1764.0,282.9 1765.8,282.9 1767.6,282.9 1769.4,282.1 1771.2,281.1 1773.0,280.3 1774.8,281.0 1776.6,279.6 1778.4,279.9 1780.2,279.4 1782.0,279.1 1783.8,278.7 1785.5,277.9 1787.3,277.7 1789.0,278.2 1790.8,277.3 1792.5,277.9 1794.2,277.1 1796.0,277.2 1797.7,276.8 1799.4,277.3 1801.2,276.8 1802.9,276.4 1804.7,276.2 1806.4,276.5 1808.3,276.1 1810.2,276.2 1812.1,274.9 1813.9,274.0 1815.8,273.8 1817.7,273.6 1819.7,273.9 1821.7,275.2 1823.6,276.3 1825.6,276.7 1827.6,277.3 1829.7,281.4 1831.8,286.2 1833.9,290.9 1836.0,295.7 1838.0,300.1 1840.0,304.6 1841.9,310.1 1843.9,313.9 1845.9,318.3 1847.6,321.9 1849.3,325.4 1851.0,328.7 1852.7,332.3 1854.4,335.2 1856.3,337.0 1858.1,339.4 1860.0,341.1" fill="none" stroke="#e377c2" stroke-width="3.2" stroke-linejoin="round"/>
</g>
<line x1="1343.7" y1="145.6" x2="1343.7" y2="535.6" stroke="#000" stroke-width="2.6"/>
<line x1="1342.4" y1="534.2" x2="1860.2" y2="534.2" stroke="#000" stroke-width="2.8"/>
<line x1="1343.7" y1="204.5" x2="1350.8" y2="204.5" stroke="#000" stroke-width="2.5"/>
<line x1="1343.7" y1="268.7" x2="1350.8" y2="268.7" stroke="#000" stroke-width="2.5"/>
<line x1="1343.7" y1="333.9" x2="1350.8" y2="333.9" stroke="#000" stroke-width="2.5"/>
<line x1="1343.7" y1="398.6" x2="1350.8" y2="398.6" stroke="#000" stroke-width="2.5"/>
<line x1="1343.7" y1="463.5" x2="1350.8" y2="463.5" stroke="#000" stroke-width="2.5"/>
<text x="1336.0" y="212.9" font-family='"DejaVu Sans", "Liberation Sans", sans-serif' font-size="23" fill="#111" font-weight="bold" text-anchor="end" textLength="34.3" lengthAdjust="spacingAndGlyphs">10</text>
<text x="1336.0" y="277.1" font-family='"DejaVu Sans", "Liberation Sans", sans-serif' font-size="23" fill="#111" font-weight="bold" text-anchor="end" textLength="17.1" lengthAdjust="spacingAndGlyphs">8</text>
<text x="1336.0" y="342.3" font-family='"DejaVu Sans", "Liberation Sans", sans-serif' font-size="23" fill="#111" font-weight="bold" text-anchor="end" textLength="17.1" lengthAdjust="spacingAndGlyphs">6</text>
<text x="1336.0" y="407.0" font-family='"DejaVu Sans", "Liberation Sans", sans-serif' font-size="23" fill="#111" font-weight="bold" text-anchor="end" textLength="17.1" lengthAdjust="spacingAndGlyphs">4</text>
<text x="1336.0" y="471.9" font-family='"DejaVu Sans", "Liberation Sans", sans-serif' font-size="23" fill="#111" font-weight="bold" text-anchor="end" textLength="17.1" lengthAdjust="spacingAndGlyphs">2</text>
<text x="1336.0" y="537.9" font-family='"DejaVu Sans", "Liberation Sans", sans-serif' font-size="23" fill="#111" font-weight="bold" text-anchor="end" textLength="17.1" lengthAdjust="spacingAndGlyphs">0</text>
<line x1="1502.0" y1="534.2" x2="1502.0" y2="527.5" stroke="#000" stroke-width="2.5"/>
<line x1="1673.5" y1="534.2" x2="1673.5" y2="527.5" stroke="#000" stroke-width="2.5"/>
<line x1="1844.5" y1="534.2" x2="1844.5" y2="527.5" stroke="#000" stroke-width="2.5"/>
<text x="1503.2" y="564.5" font-family='"DejaVu Sans", "Liberation Sans", sans-serif' font-size="23" fill="#111" font-weight="bold" text-anchor="middle" textLength="33.6" lengthAdjust="spacingAndGlyphs">50</text>
<text x="1674.0" y="564.5" font-family='"DejaVu Sans", "Liberation Sans", sans-serif' font-size="23" fill="#111" font-weight="bold" text-anchor="middle" textLength="50.4" lengthAdjust="spacingAndGlyphs">100</text>
<text x="1842.8" y="564.5" font-family='"DejaVu Sans", "Liberation Sans", sans-serif' font-size="23" fill="#111" font-weight="bold" text-anchor="middle" textLength="50.4" lengthAdjust="spacingAndGlyphs">150</text>
<text x="1532.2" y="613.2" font-family='"DejaVu Sans", "Liberation Sans", sans-serif' font-size="30.5" fill="#111" textLength="118.7" lengthAdjust="spacingAndGlyphs">Time / s</text>
<text x="1275.7" y="513.0" font-family='"DejaVu Sans", "Liberation Sans", sans-serif' font-size="30.5" fill="#111" textLength="322.0" lengthAdjust="spacingAndGlyphs" transform="rotate(-90 1275.7 513.0)">Tempertaure rise / °C</text>
<line x1="1562.2" y1="411.2" x2="1598.2" y2="411.2" stroke="#48b691" stroke-width="2.7"/>
<text x="1604.0" y="417.1" font-family='"Liberation Sans", sans-serif' font-size="21.5" fill="#222" font-weight="bold" textLength="166.0" lengthAdjust="spacingAndGlyphs">0.7 x 0.7 x 2 mm</text>
<text x="1771.2" y="410.0" font-family='"Liberation Sans", sans-serif' font-size="13.8" fill="#222" font-weight="bold">3</text>
<line x1="1562.2" y1="440.0" x2="1598.2" y2="440.0" stroke="#ff7a4d" stroke-width="2.7"/>
<text x="1604.0" y="445.9" font-family='"Liberation Sans", sans-serif' font-size="21.5" fill="#222" font-weight="bold" textLength="166.0" lengthAdjust="spacingAndGlyphs">0.8 x 0.8 x 2 mm</text>
<text x="1771.2" y="438.8" font-family='"Liberation Sans", sans-serif' font-size="13.8" fill="#222" font-weight="bold">3</text>
<line x1="1562.2" y1="467.3" x2="1598.2" y2="467.3" stroke="#ff0000" stroke-width="3.4"/>
<text x="1604.0" y="473.2" font-family='"Liberation Sans", sans-serif' font-size="21.5" fill="#222" font-weight="bold" textLength="166.0" lengthAdjust="spacingAndGlyphs">0.8 x 0.8 x 3 mm</text>
<text x="1771.2" y="466.1" font-family='"Liberation Sans", sans-serif' font-size="13.8" fill="#222" font-weight="bold">3</text>
<line x1="1562.2" y1="495.6" x2="1598.2" y2="495.6" stroke="#e377c2" stroke-width="2.8"/>
<text x="1604.0" y="501.5" font-family='"Liberation Sans", sans-serif' font-size="21.5" fill="#222" font-weight="bold" textLength="166.0" lengthAdjust="spacingAndGlyphs">1.6 x 1.6 x 3 mm</text>
<text x="1771.2" y="494.4" font-family='"Liberation Sans", sans-serif' font-size="13.8" fill="#222" font-weight="bold">3</text>
</svg>
</body></html>
